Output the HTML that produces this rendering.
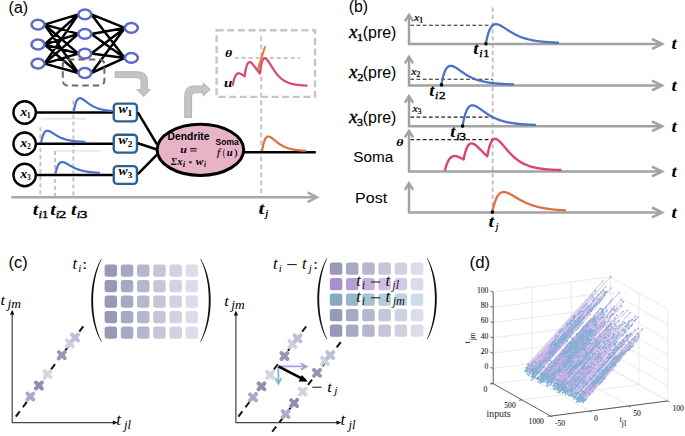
<!DOCTYPE html>
<html><head><meta charset="utf-8"><style>
html,body{margin:0;padding:0;background:#fff;width:685px;height:436px;overflow:hidden}
svg{display:block}
</style></head><body>
<svg width="685" height="436" viewBox="0 0 685 436">
<text transform="translate(8.61,12.6) scale(1.014,1)" font-family="Liberation Sans" font-size="15.8">(a)</text>
<path d="M44.5,24.6 L78.35,14.4 M44.5,24.6 L78.35,33.9 M44.5,24.6 L78.35,53.6 M44.5,24.6 L78.35,73 M44.5,44.5 L78.35,14.4 M44.5,44.5 L78.35,33.9 M44.5,44.5 L78.35,53.6 M44.5,44.5 L78.35,73 M44.5,63.6 L78.35,14.4 M44.5,63.6 L78.35,33.9 M44.5,63.6 L78.35,53.6 M44.5,63.6 L78.35,73 M91.35,14.4 L124.8,27.9 M91.35,14.4 L124.8,57.9 M91.35,33.9 L124.8,27.9 M91.35,33.9 L124.8,57.9 M91.35,53.6 L124.8,27.9 M91.35,53.6 L124.8,57.9 M91.35,73 L124.8,27.9 M91.35,73 L124.8,57.9" stroke="#000" stroke-width="2.5" fill="none" stroke-linecap="round"/>
<ellipse cx="38" cy="24.6" rx="6.5" ry="4.9" fill="#fff" stroke="#5a6cc4" stroke-width="2.5"/>
<ellipse cx="38" cy="44.5" rx="6.5" ry="4.9" fill="#fff" stroke="#5a6cc4" stroke-width="2.5"/>
<ellipse cx="38" cy="63.6" rx="6.5" ry="4.9" fill="#fff" stroke="#5a6cc4" stroke-width="2.5"/>
<ellipse cx="84.85" cy="14.4" rx="6.5" ry="4.9" fill="#fff" stroke="#5a6cc4" stroke-width="2.5"/>
<ellipse cx="84.85" cy="33.9" rx="6.5" ry="4.9" fill="#fff" stroke="#5a6cc4" stroke-width="2.5"/>
<ellipse cx="84.85" cy="53.6" rx="6.5" ry="4.9" fill="#fff" stroke="#5a6cc4" stroke-width="2.5"/>
<ellipse cx="84.85" cy="73" rx="6.5" ry="4.9" fill="#fff" stroke="#5a6cc4" stroke-width="2.5"/>
<ellipse cx="131.3" cy="27.9" rx="6.5" ry="4.9" fill="#fff" stroke="#5a6cc4" stroke-width="2.5"/>
<ellipse cx="131.3" cy="57.9" rx="6.5" ry="4.9" fill="#fff" stroke="#5a6cc4" stroke-width="2.5"/>
<rect x="62.8" y="59.5" width="41.6" height="26" rx="5" fill="none" stroke="#6a6a6a" stroke-width="2" stroke-dasharray="6.5,4"/>
<path d="M115.1,71.7 L137.5,71.7 Q147.5,71.7 147.5,81.7 L147.5,89.6 L150.4,89.6 L143.8,96.6 L137,89.6 L141,89.6 L141,81.5 Q141,77.6 137.1,77.6 L115.1,77.6 Z" fill="#c4c4c4" stroke="#a9a9a9" stroke-width="0.8"/>
<path d="M184.7,117.4 L184.7,95.5 Q184.7,85.9 194.3,85.9 L203.1,85.9 L203.1,82.8 L210.2,89.4 L203.1,96.2 L203.1,92.8 L195,92.8 Q191.6,92.8 191.6,96.2 L191.6,117.4 Z" fill="#c4c4c4" stroke="#a9a9a9" stroke-width="0.8"/>
<path d="M41.2,118.9 L85.5,118.9 M55.6,150.9 L100.6,150.9" stroke="#d6d6d6" stroke-width="1"/>
<path d="M40.4,127.3 L40.4,196 M55,151 L55,196 M73.4,100.4 L73.4,196" stroke="#c4c4c4" stroke-width="2" stroke-dasharray="4,3"/>
<path d="M261.2,36.4 L261.2,196" stroke="#c4c4c4" stroke-width="2" stroke-dasharray="4.5,3.5"/>
<path d="M37,112.5 L113,112.5 M37,143.7 L113,143.7 M37,175 L113,175" stroke="#000" stroke-width="2.5"/>
<path d="M73.8,111.6 L73.85,111.33 L73.93,110.84 L74.03,110.23 L74.16,109.54 L74.3,108.78 L74.46,108 L74.64,107.19 L74.82,106.38 L75.02,105.57 L75.23,104.79 L75.45,104.02 L75.67,103.29 L75.91,102.6 L76.16,101.96 L76.42,101.36 L76.69,100.81 L76.96,100.31 L77.24,99.87 L77.53,99.48 L77.83,99.14 L78.14,98.86 L78.45,98.63 L78.77,98.45 L79.1,98.32 L79.44,98.24 L79.78,98.2 L80.13,98.21 L80.48,98.25 L80.84,98.34 L81.21,98.46 L81.58,98.61 L81.96,98.79 L82.35,98.99 L82.74,99.22 L83.14,99.47 L83.54,99.74 L83.95,100.03 L84.36,100.33 L84.78,100.64 L85.21,100.96 L85.64,101.29 L86.07,101.62 L86.51,101.96 L86.96,102.29 L87.41,102.63 L87.87,102.97 L88.33,103.31 L88.8,103.64 L89.27,103.97 L89.74,104.3 L90.22,104.61 L90.71,104.93 L91.2,105.23 L91.69,105.53 L92.19,105.82 L92.7,106.1 L93.2,106.37 L93.72,106.63 L94.24,106.89 L94.76,107.13 L95.28,107.37 L95.81,107.6 L96.35,107.81 L96.89,108.02 L97.43,108.22 L97.98,108.41 L98.53,108.6 L99.08,108.77 L99.64,108.94 L100.21,109.09 L100.78,109.24 L101.35,109.39 L101.92,109.52 L102.5,109.65 L103.09,109.77 L103.68,109.89 L104.27,110 L104.86,110.1 L105.46,110.2 L106.07,110.29 L106.67,110.37 L107.28,110.45 L107.9,110.53 L108.51,110.6 L109.14,110.67 L109.76,110.73 L110.39,110.79 L111.02,110.85 L111.66,110.9 L112.3,110.95" stroke="#4a72c8" stroke-width="2.2" fill="none"/>
<path d="M41.2,142.2 L41.25,141.94 L41.35,141.47 L41.47,140.89 L41.62,140.23 L41.78,139.52 L41.96,138.78 L42.16,138.03 L42.37,137.28 L42.6,136.55 L42.84,135.84 L43.09,135.16 L43.36,134.53 L43.63,133.93 L43.92,133.38 L44.21,132.89 L44.52,132.45 L44.84,132.06 L45.16,131.72 L45.5,131.44 L45.84,131.21 L46.19,131.04 L46.55,130.91 L46.92,130.83 L47.3,130.8 L47.69,130.81 L48.08,130.86 L48.48,130.95 L48.89,131.07 L49.3,131.22 L49.73,131.4 L50.16,131.6 L50.59,131.83 L51.04,132.08 L51.49,132.34 L51.94,132.61 L52.41,132.9 L52.88,133.2 L53.35,133.5 L53.84,133.81 L54.33,134.12 L54.82,134.44 L55.32,134.75 L55.83,135.06 L56.34,135.37 L56.86,135.68 L57.39,135.98 L57.92,136.27 L58.45,136.56 L59,136.84 L59.54,137.11 L60.1,137.38 L60.66,137.63 L61.22,137.88 L61.79,138.12 L62.36,138.35 L62.94,138.57 L63.53,138.78 L64.12,138.98 L64.71,139.17 L65.31,139.36 L65.92,139.53 L66.53,139.7 L67.14,139.85 L67.77,140 L68.39,140.15 L69.02,140.28 L69.65,140.41 L70.29,140.53 L70.94,140.64 L71.59,140.75 L72.24,140.85 L72.9,140.94 L73.56,141.03 L74.23,141.11 L74.9,141.19 L75.58,141.26 L76.26,141.33 L76.94,141.39 L77.63,141.45 L78.33,141.51 L79.02,141.56 L79.73,141.61 L80.43,141.65 L81.14,141.69 L81.86,141.73 L82.58,141.77 L83.3,141.8 L84.03,141.83 L84.76,141.86 L85.5,141.89" stroke="#4a72c8" stroke-width="2.2" fill="none"/>
<path d="M55.6,173.2 L55.65,172.96 L55.75,172.53 L55.87,171.99 L56.02,171.38 L56.18,170.73 L56.36,170.04 L56.56,169.34 L56.78,168.64 L57,167.95 L57.24,167.28 L57.5,166.63 L57.76,166.02 L58.04,165.44 L58.32,164.9 L58.62,164.41 L58.93,163.97 L59.24,163.57 L59.57,163.22 L59.91,162.92 L60.25,162.67 L60.6,162.47 L60.97,162.31 L61.34,162.2 L61.71,162.13 L62.1,162.1 L62.49,162.11 L62.9,162.16 L63.3,162.23 L63.72,162.34 L64.14,162.48 L64.58,162.64 L65.01,162.83 L65.46,163.04 L65.91,163.26 L66.37,163.5 L66.83,163.75 L67.3,164.02 L67.78,164.29 L68.27,164.57 L68.76,164.86 L69.25,165.15 L69.75,165.44 L70.26,165.74 L70.78,166.03 L71.3,166.32 L71.82,166.61 L72.36,166.89 L72.89,167.17 L73.44,167.45 L73.99,167.72 L74.54,167.98 L75.1,168.23 L75.66,168.48 L76.24,168.72 L76.81,168.95 L77.39,169.18 L77.98,169.39 L78.57,169.6 L79.17,169.8 L79.77,169.99 L80.38,170.18 L80.99,170.35 L81.6,170.52 L82.22,170.68 L82.85,170.83 L83.48,170.98 L84.12,171.11 L84.76,171.24 L85.41,171.37 L86.06,171.48 L86.71,171.59 L87.37,171.7 L88.03,171.8 L88.7,171.89 L89.38,171.98 L90.05,172.06 L90.74,172.14 L91.42,172.21 L92.11,172.28 L92.81,172.34 L93.51,172.4 L94.21,172.46 L94.92,172.51 L95.63,172.56 L96.35,172.61 L97.07,172.65 L97.8,172.69 L98.53,172.73 L99.26,172.76 L100,172.8" stroke="#4a72c8" stroke-width="2.2" fill="none"/>
<circle cx="24.65" cy="112.5" r="11.2" fill="#fff" stroke="#000" stroke-width="2.4"/>
<text transform="translate(20.17,115.8) scale(1.179,1)" font-family="Liberation Serif" font-size="12" font-weight="bold" font-style="italic">x</text>
<text transform="translate(26.87,117.5) scale(1.094,1)" font-family="Liberation Serif" font-size="7.2" font-weight="bold">1</text>
<circle cx="24.65" cy="143.7" r="11.2" fill="#fff" stroke="#000" stroke-width="2.4"/>
<text transform="translate(20.17,147) scale(1.179,1)" font-family="Liberation Serif" font-size="12" font-weight="bold" font-style="italic">x</text>
<text transform="translate(27.21,148.7) scale(0.970,1)" font-family="Liberation Serif" font-size="7.2" font-weight="bold">2</text>
<circle cx="24.65" cy="175" r="11.2" fill="#fff" stroke="#000" stroke-width="2.4"/>
<text transform="translate(20.17,178.3) scale(1.179,1)" font-family="Liberation Serif" font-size="12" font-weight="bold" font-style="italic">x</text>
<text transform="translate(27.25,180) scale(0.941,1)" font-family="Liberation Serif" font-size="7.2" font-weight="bold">3</text>
<rect x="113.75" y="103.6" width="23.2" height="17.8" rx="3.5" fill="#fff" stroke="#2e5f92" stroke-width="2.4"/>
<text transform="translate(118.59,112.9) scale(1.108,1)" font-family="Liberation Serif" font-size="12.4" font-weight="bold" font-style="italic">w</text>
<text transform="translate(127.35,115.6) scale(1.471,1)" font-family="Liberation Serif" font-size="7.2" font-weight="bold">1</text>
<rect x="113.75" y="134.8" width="23.2" height="17.8" rx="3.5" fill="#fff" stroke="#2e5f92" stroke-width="2.4"/>
<text transform="translate(118.59,144.1) scale(1.108,1)" font-family="Liberation Serif" font-size="12.4" font-weight="bold" font-style="italic">w</text>
<text transform="translate(127.81,146.8) scale(1.305,1)" font-family="Liberation Serif" font-size="7.2" font-weight="bold">2</text>
<rect x="113.75" y="166.1" width="23.2" height="17.8" rx="3.5" fill="#fff" stroke="#2e5f92" stroke-width="2.4"/>
<text transform="translate(118.59,175.4) scale(1.108,1)" font-family="Liberation Serif" font-size="12.4" font-weight="bold" font-style="italic">w</text>
<text transform="translate(127.86,178.1) scale(1.265,1)" font-family="Liberation Serif" font-size="7.2" font-weight="bold">3</text>
<path d="M137.8,112.4 L157,144.3 M137.8,143.3 L157,149.5 M137.8,174.2 L157,154.6" stroke="#000" stroke-width="2.5"/>
<path d="M240,152.2 L315.8,152.2" stroke="#000" stroke-width="2.5"/>
<ellipse cx="200.4" cy="149.8" rx="43.3" ry="25.6" fill="#e8b3c6" stroke="#000" stroke-width="3"/>
<text transform="translate(167.61,140.4) scale(1.034,1)" font-family="Liberation Sans" font-size="10" font-weight="bold">Dendrite</text>
<text transform="translate(180.26,152.6) scale(1.083,1)" font-family="Liberation Serif" font-size="11" font-weight="bold" font-style="italic">u</text>
<path d="M190.2,148.6 L196.6,148.6 M190.2,151 L196.6,151" stroke="#222" stroke-width="1.1"/>
<text transform="translate(170.96,164.6) scale(0.984,1)" font-family="Liberation Serif" font-size="9.6" font-weight="bold" font-style="italic">Σ</text>
<text transform="translate(177.13,164.6) scale(0.969,1)" font-family="Liberation Serif" font-size="11" font-weight="bold" font-style="italic">x</text>
<text transform="translate(182.67,166.5) scale(1.183,1)" font-family="Liberation Serif" font-size="7.5" font-weight="bold" font-style="italic">i</text>
<text transform="translate(188.41,165.2) scale(0.994,1)" font-family="Liberation Serif" font-size="7" font-weight="bold">*</text>
<text transform="translate(195.69,164.6) scale(1.032,1)" font-family="Liberation Serif" font-size="11" font-weight="bold" font-style="italic">w</text>
<text transform="translate(203.92,166.5) scale(0.968,1)" font-family="Liberation Serif" font-size="7.5" font-weight="bold" font-style="italic">i</text>
<text transform="translate(215.55,144.6) scale(1.039,1)" font-family="Liberation Sans" font-size="8.2" font-weight="bold">Soma</text>
<text transform="translate(216.86,155.7) scale(1.222,1)" font-family="Liberation Serif" font-size="10.5" font-style="italic">f</text>
<text transform="translate(222.76,155.7) scale(0.742,1)" font-family="Liberation Serif" font-size="10.5">(</text>
<text transform="translate(226.81,155.7) scale(1.124,1)" font-family="Liberation Serif" font-size="9.5" font-weight="bold" font-style="italic">u</text>
<text transform="translate(233.5,155.7) scale(1.187,1)" font-family="Liberation Serif" font-size="10.5">)</text>
<path d="M262.1,151.2 L262.15,150.86 L262.25,150.26 L262.37,149.51 L262.51,148.67 L262.68,147.76 L262.86,146.81 L263.06,145.85 L263.27,144.88 L263.49,143.94 L263.73,143.03 L263.98,142.16 L264.25,141.33 L264.52,140.57 L264.81,139.86 L265.1,139.22 L265.41,138.65 L265.72,138.14 L266.04,137.71 L266.38,137.35 L266.72,137.05 L267.07,136.82 L267.43,136.65 L267.8,136.55 L268.17,136.5 L268.56,136.51 L268.95,136.57 L269.35,136.68 L269.75,136.83 L270.17,137.02 L270.59,137.25 L271.01,137.51 L271.45,137.8 L271.89,138.11 L272.34,138.45 L272.79,138.8 L273.26,139.17 L273.72,139.55 L274.2,139.94 L274.68,140.34 L275.17,140.74 L275.66,141.14 L276.16,141.54 L276.66,141.94 L277.17,142.34 L277.69,142.73 L278.21,143.12 L278.74,143.5 L279.28,143.87 L279.82,144.23 L280.36,144.59 L280.91,144.93 L281.47,145.26 L282.03,145.58 L282.6,145.89 L283.17,146.18 L283.74,146.47 L284.33,146.74 L284.91,147 L285.51,147.25 L286.1,147.49 L286.71,147.72 L287.32,147.93 L287.93,148.14 L288.55,148.33 L289.17,148.52 L289.79,148.69 L290.43,148.86 L291.06,149.01 L291.7,149.16 L292.35,149.3 L293,149.43 L293.66,149.55 L294.32,149.67 L294.98,149.77 L295.65,149.87 L296.32,149.97 L297,150.06 L297.68,150.14 L298.37,150.22 L299.06,150.29 L299.75,150.36 L300.45,150.42 L301.16,150.48 L301.86,150.54 L302.58,150.59 L303.29,150.63 L304.01,150.68 L304.74,150.72 L305.47,150.76 L306.2,150.79" stroke="#e0703f" stroke-width="2.2" fill="none"/>
<path d="M11.3,197.3 L316,197.3" stroke="#a8a8a8" stroke-width="2.4"/>
<path d="M307.6,192.4 L316.8,197.3 L307.6,202.2" stroke="#a8a8a8" stroke-width="2.6" fill="none"/>
<text transform="translate(32.81,214.5) scale(1.180,1)" font-family="Liberation Serif" font-size="17" font-weight="bold" font-style="italic">t</text>
<text transform="translate(38.57,217.5) scale(1.371,1)" font-family="Liberation Serif" font-size="9.5" font-style="italic" stroke="#000" stroke-width="0.3">i</text>
<text transform="translate(42,217.5) scale(1.250,1)" font-family="Liberation Serif" font-size="10" stroke="#000" stroke-width="0.35">1</text>
<text transform="translate(50.31,214.5) scale(1.180,1)" font-family="Liberation Serif" font-size="17" font-weight="bold" font-style="italic">t</text>
<text transform="translate(55.67,217.5) scale(1.371,1)" font-family="Liberation Serif" font-size="9.5" font-style="italic" stroke="#000" stroke-width="0.3">i</text>
<text transform="translate(58.61,217.5) scale(1.572,1)" font-family="Liberation Serif" font-size="10" stroke="#000" stroke-width="0.35">2</text>
<text transform="translate(70.91,214.5) scale(1.180,1)" font-family="Liberation Serif" font-size="17" font-weight="bold" font-style="italic">t</text>
<text transform="translate(76.67,217.5) scale(1.371,1)" font-family="Liberation Serif" font-size="9.5" font-style="italic" stroke="#000" stroke-width="0.3">i</text>
<text transform="translate(79.67,217.5) scale(1.525,1)" font-family="Liberation Serif" font-size="10" stroke="#000" stroke-width="0.35">3</text>
<text transform="translate(258.46,214) scale(1.252,1)" font-family="Liberation Serif" font-size="17" font-weight="bold" font-style="italic">t</text>
<text transform="translate(265.54,217.3) scale(0.902,1)" font-family="Liberation Serif" font-size="10.5" font-weight="bold" font-style="italic">j</text>
<rect x="216.6" y="30.3" width="98.4" height="66.6" fill="none" stroke="#c6c6c6" stroke-width="2.4" stroke-dasharray="7,3.6"/>
<path d="M234.7,57.9 L299.8,57.9" stroke="#c0c0c0" stroke-width="1.6" stroke-dasharray="4,3"/>
<text transform="translate(225.08,57.3) scale(1.302,1)" font-family="Liberation Serif" font-size="10.6" font-weight="bold" font-style="italic">θ</text>
<text transform="translate(223.95,87.3) scale(1.250,1)" font-family="Liberation Serif" font-size="12" font-weight="bold" font-style="italic">u</text>
<path d="M232.4,85.9 L232.78,84.81 L233.15,82.97 L233.53,81.35 L233.9,79.93 L234.28,78.7 L234.65,77.64 L235.03,76.73 L235.4,75.95 L235.78,75.3 L236.16,74.76 L236.53,74.33 L236.91,73.98 L237.28,73.71 L237.66,73.52 L238.03,73.39 L238.41,73.32 L238.78,73.3 L239.16,73.32 L239.53,73.39 L239.91,73.49 L240.29,73.63 L240.66,73.78 L241.04,73.97 L241.41,74.17 L241.79,74.39 L242.16,74.62 L242.54,74.87 L242.91,75.12 L243.29,75.39 L243.67,75.65 L244.04,75.93 L244.42,76.2 L244.57,76.31 L244.79,74.79 L245.17,72.45 L245.54,70.43 L245.92,68.7 L246.29,67.23 L246.67,65.99 L247.04,64.96 L247.42,64.13 L247.8,63.47 L248.17,62.96 L248.55,62.58 L248.92,62.34 L249.3,62.2 L249.67,62.16 L250.05,62.2 L250.42,62.32 L250.8,62.51 L251.18,62.76 L251.55,63.06 L251.93,63.4 L252.3,63.78 L252.68,64.19 L253.05,64.63 L253.43,65.09 L253.8,65.57 L254.18,66.06 L254.56,66.57 L254.93,67.08 L255.31,67.6 L255.68,68.12 L256.06,68.64 L256.43,69.16 L256.81,69.68 L257.18,70.19 L257.56,70.7 L257.93,71.2 L258.31,71.7 L258.69,72.18 L259.06,72.66 L259.44,73.12 L259.8,73.56 L259.81,73.45 L260.19,70.66 L260.56,68.24 L260.94,66.16 L261.31,64.39 L261.69,62.9 L262.07,61.66 L262.44,60.65 L262.82,59.84 L263.19,59.22 L263.57,58.76 L263.94,58.45 L264.32,58.26 L264.69,58.19 L265.07,58.23 L265.45,58.36 L265.82,58.56 L266.2,58.84 L266.57,59.18 L266.95,59.57 L267.32,60.01 L267.7,60.48 L268.07,60.99 L268.45,61.52 L268.82,62.08 L269.2,62.65 L269.58,63.24 L269.95,63.83 L270.33,64.44 L270.7,65.04 L271.08,65.65 L271.45,66.26 L271.83,66.87 L272.2,67.47 L272.58,68.06 L272.96,68.65 L273.33,69.23 L273.71,69.79 L274.08,70.35 L274.46,70.9 L274.83,71.43 L275.21,71.96 L275.58,72.47 L275.96,72.96 L276.33,73.45 L276.71,73.92 L277.09,74.38 L277.46,74.82 L277.84,75.25 L278.21,75.67 L278.59,76.07 L278.96,76.46 L279.34,76.84 L279.71,77.21 L280.09,77.56 L280.47,77.9 L280.84,78.23 L281.22,78.55 L281.59,78.85 L281.97,79.15 L282.34,79.43 L282.72,79.71 L283.09,79.97 L283.47,80.22 L283.85,80.46 L284.22,80.7 L284.6,80.92 L284.97,81.14 L285.35,81.34 L285.72,81.54 L286.1,81.73 L286.47,81.92 L286.85,82.09 L287.22,82.26 L287.6,82.42 L287.98,82.58 L288.35,82.72 L288.73,82.86 L289.1,83 L289.48,83.13 L289.85,83.26 L290.23,83.37 L290.6,83.49 L290.98,83.6 L291.36,83.7 L291.73,83.8 L292.11,83.9 L292.48,83.99 L292.86,84.08 L293.23,84.16 L293.61,84.24 L293.98,84.32 L294.36,84.39 L294.73,84.46 L295.11,84.52 L295.49,84.59 L295.86,84.65 L296.24,84.71 L296.61,84.76 L296.99,84.82 L297.36,84.87 L297.74,84.91 L298.11,84.96 L298.49,85 L298.87,85.05 L299.24,85.09 L299.62,85.12 L299.99,85.16 L300.37,85.19 L300.74,85.23 L301.12,85.26 L301.49,85.29 L301.87,85.32 L302.25,85.35 L302.62,85.37 L303,85.4 L303.37,85.42 L303.75,85.44 L304.12,85.46 L304.5,85.49 L304.87,85.51 L305.25,85.52 L305.62,85.54 L306,85.56 L306.38,85.57 L306.75,85.59 L307.13,85.61 L307.5,85.62" stroke="#d9486b" stroke-width="2.2" fill="none" stroke-linejoin="round"/>
<path d="M257.8,69.3 L265.2,46.3" stroke="#e8783c" stroke-width="2"/>
<text x="348.82" y="11.9" font-family="Liberation Sans" font-size="15.8">(b)</text>
<path d="M492.7,7.6 L492.7,220" stroke="#c0c0c0" stroke-width="1.9" stroke-dasharray="4.2,3"/>
<path d="M410.3,25.3 L492.7,25.3" stroke="#222" stroke-width="1.1" stroke-dasharray="3.8,2.4"/>
<path d="M410.3,79.2 L492.7,79.2" stroke="#222" stroke-width="1.1" stroke-dasharray="3.8,2.4"/>
<path d="M410.3,117.1 L492.7,117.1" stroke="#222" stroke-width="1.1" stroke-dasharray="3.8,2.4"/>
<path d="M410.3,139.6 L492.7,139.6" stroke="#222" stroke-width="1.1" stroke-dasharray="3.8,2.4"/>
<path d="M409,14.8 L409,43.9 L661.8,43.9" stroke="#a2a2a2" stroke-width="2.5" fill="none"/>
<path d="M404.9,21.4 L409,14.7 L413.1,21.4" stroke="#a2a2a2" stroke-width="2.4" fill="none"/>
<path d="M652,39 L662,43.9 L652,48.8" stroke="#a2a2a2" stroke-width="2.6" fill="none"/>
<text transform="translate(671.52,49.2) scale(1.091,1)" font-family="Liberation Serif" font-size="17.5" font-weight="bold" font-style="italic">t</text>
<path d="M409,56.8 L409,85.5 L661.8,85.5" stroke="#a2a2a2" stroke-width="2.5" fill="none"/>
<path d="M404.9,63.4 L409,56.7 L413.1,63.4" stroke="#a2a2a2" stroke-width="2.4" fill="none"/>
<path d="M652,80.6 L662,85.5 L652,90.4" stroke="#a2a2a2" stroke-width="2.6" fill="none"/>
<text transform="translate(671.52,90.8) scale(1.091,1)" font-family="Liberation Serif" font-size="17.5" font-weight="bold" font-style="italic">t</text>
<path d="M409,96.2 L409,126.3 L661.8,126.3" stroke="#a2a2a2" stroke-width="2.5" fill="none"/>
<path d="M404.9,102.8 L409,96.1 L413.1,102.8" stroke="#a2a2a2" stroke-width="2.4" fill="none"/>
<path d="M652,121.4 L662,126.3 L652,131.2" stroke="#a2a2a2" stroke-width="2.6" fill="none"/>
<text transform="translate(671.52,131.6) scale(1.091,1)" font-family="Liberation Serif" font-size="17.5" font-weight="bold" font-style="italic">t</text>
<path d="M409,130.8 L409,171.5 L661.8,171.5" stroke="#a2a2a2" stroke-width="2.5" fill="none"/>
<path d="M404.9,137.4 L409,130.7 L413.1,137.4" stroke="#a2a2a2" stroke-width="2.4" fill="none"/>
<path d="M652,166.6 L662,171.5 L652,176.4" stroke="#a2a2a2" stroke-width="2.6" fill="none"/>
<text transform="translate(671.52,176.8) scale(1.091,1)" font-family="Liberation Serif" font-size="17.5" font-weight="bold" font-style="italic">t</text>
<path d="M409,183.3 L409,212.4 L661.8,212.4" stroke="#a2a2a2" stroke-width="2.5" fill="none"/>
<path d="M404.9,189.9 L409,183.2 L413.1,189.9" stroke="#a2a2a2" stroke-width="2.4" fill="none"/>
<path d="M652,207.5 L662,212.4 L652,217.3" stroke="#a2a2a2" stroke-width="2.6" fill="none"/>
<text transform="translate(671.52,217.7) scale(1.091,1)" font-family="Liberation Serif" font-size="17.5" font-weight="bold" font-style="italic">t</text>
<text transform="translate(348.93,37.5) scale(1.065,1)" font-family="Liberation Serif" font-size="18" font-style="italic" stroke="#000" stroke-width="0.35">x</text>
<text transform="translate(356.85,40.5) scale(1.375,1)" font-family="Liberation Serif" font-size="9.5" stroke="#000" stroke-width="0.3">1</text>
<text transform="translate(362.81,37.5) scale(1.006,1)" font-family="Liberation Sans" font-size="15.8">(pre)</text>
<text transform="translate(348.93,77.5) scale(1.065,1)" font-family="Liberation Serif" font-size="18" font-style="italic" stroke="#000" stroke-width="0.35">x</text>
<text transform="translate(357.15,80.5) scale(1.313,1)" font-family="Liberation Serif" font-size="9.5" stroke="#000" stroke-width="0.3">2</text>
<text transform="translate(362.81,77.5) scale(1.006,1)" font-family="Liberation Sans" font-size="15.8">(pre)</text>
<text transform="translate(348.93,122.7) scale(1.065,1)" font-family="Liberation Serif" font-size="18" font-style="italic" stroke="#000" stroke-width="0.35">x</text>
<text transform="translate(357.12,125.7) scale(1.274,1)" font-family="Liberation Serif" font-size="9.5" stroke="#000" stroke-width="0.3">3</text>
<text transform="translate(362.81,122.7) scale(1.006,1)" font-family="Liberation Sans" font-size="15.8">(pre)</text>
<text transform="translate(353.3,162) scale(0.988,1)" font-family="Liberation Sans" font-size="15.5">Soma</text>
<text transform="translate(355.09,203.3) scale(1.033,1)" font-family="Liberation Sans" font-size="15.5">Post</text>
<text transform="translate(414.04,20.6) scale(1.205,1)" font-family="Liberation Serif" font-size="9.8" font-style="italic" stroke="#000" stroke-width="0.2">x</text>
<text transform="translate(418.95,22.5) scale(1.184,1)" font-family="Liberation Serif" font-size="7.2" stroke="#000" stroke-width="0.25">1</text>
<text transform="translate(411.14,74.9) scale(1.205,1)" font-family="Liberation Serif" font-size="9.8" font-style="italic" stroke="#000" stroke-width="0.2">x</text>
<text transform="translate(416.47,76.8) scale(1.039,1)" font-family="Liberation Serif" font-size="7.2" stroke="#000" stroke-width="0.25">2</text>
<text transform="translate(412.44,112.2) scale(1.205,1)" font-family="Liberation Serif" font-size="9.8" font-style="italic" stroke="#000" stroke-width="0.2">x</text>
<text transform="translate(417.75,114.1) scale(1.009,1)" font-family="Liberation Serif" font-size="7.2" stroke="#000" stroke-width="0.25">3</text>
<text transform="translate(396.18,145.6) scale(1.221,1)" font-family="Liberation Serif" font-size="11.3" font-weight="bold" font-style="italic">θ</text>
<path d="M485.9,43.2 L485.99,42.76 L486.14,41.97 L486.34,40.99 L486.58,39.87 L486.86,38.68 L487.16,37.44 L487.49,36.18 L487.84,34.92 L488.21,33.69 L488.61,32.5 L489.02,31.37 L489.46,30.3 L489.91,29.31 L490.38,28.4 L490.87,27.58 L491.38,26.85 L491.9,26.21 L492.44,25.66 L492.99,25.2 L493.56,24.83 L494.14,24.55 L494.73,24.36 L495.34,24.24 L495.97,24.2 L496.6,24.23 L497.25,24.33 L497.91,24.49 L498.59,24.7 L499.27,24.97 L499.97,25.28 L500.68,25.64 L501.4,26.03 L502.13,26.45 L502.87,26.9 L503.63,27.37 L504.39,27.86 L505.17,28.36 L505.96,28.87 L506.75,29.39 L507.56,29.92 L508.38,30.45 L509.2,30.97 L510.04,31.5 L510.89,32.01 L511.74,32.52 L512.61,33.02 L513.49,33.51 L514.37,33.99 L515.27,34.46 L516.17,34.91 L517.08,35.35 L518,35.77 L518.93,36.18 L519.87,36.58 L520.82,36.95 L521.78,37.32 L522.74,37.66 L523.72,37.99 L524.7,38.31 L525.69,38.61 L526.69,38.9 L527.7,39.17 L528.71,39.43 L529.74,39.67 L530.77,39.9 L531.81,40.12 L532.85,40.33 L533.91,40.52 L534.97,40.71 L536.04,40.88 L537.12,41.04 L538.21,41.19 L539.3,41.34 L540.4,41.47 L541.51,41.59 L542.62,41.71 L543.75,41.82 L544.88,41.92 L546.02,42.02 L547.16,42.11 L548.31,42.19 L549.47,42.27 L550.64,42.34 L551.81,42.41 L552.99,42.47 L554.18,42.52 L555.38,42.58 L556.58,42.63 L557.79,42.67 L559,42.72" stroke="#4a72c8" stroke-width="2.3" fill="none"/>
<path d="M441.4,84.7 L441.49,84.23 L441.64,83.38 L441.84,82.33 L442.08,81.15 L442.35,79.89 L442.65,78.58 L442.97,77.26 L443.32,75.96 L443.7,74.69 L444.09,73.47 L444.5,72.32 L444.93,71.25 L445.39,70.27 L445.85,69.38 L446.34,68.59 L446.84,67.9 L447.36,67.31 L447.89,66.82 L448.44,66.44 L449.01,66.14 L449.58,65.94 L450.17,65.83 L450.78,65.8 L451.4,65.85 L452.03,65.97 L452.67,66.15 L453.33,66.4 L454,66.7 L454.68,67.05 L455.37,67.44 L456.08,67.87 L456.79,68.33 L457.52,68.81 L458.26,69.32 L459.01,69.84 L459.77,70.38 L460.54,70.92 L461.32,71.47 L462.11,72.02 L462.91,72.57 L463.72,73.12 L464.54,73.66 L465.38,74.19 L466.22,74.71 L467.07,75.22 L467.93,75.72 L468.8,76.2 L469.68,76.67 L470.57,77.12 L471.46,77.55 L472.37,77.97 L473.28,78.37 L474.21,78.75 L475.14,79.12 L476.08,79.47 L477.03,79.8 L477.99,80.12 L478.96,80.42 L479.93,80.71 L480.92,80.97 L481.91,81.23 L482.91,81.47 L483.92,81.69 L484.94,81.91 L485.96,82.11 L486.99,82.29 L488.03,82.47 L489.08,82.63 L490.14,82.79 L491.2,82.93 L492.27,83.06 L493.35,83.19 L494.43,83.3 L495.53,83.41 L496.63,83.51 L497.74,83.61 L498.85,83.69 L499.98,83.77 L501.11,83.85 L502.24,83.92 L503.39,83.98 L504.54,84.04 L505.7,84.1 L506.86,84.15 L508.03,84.19 L509.21,84.24 L510.4,84.28 L511.59,84.31 L512.79,84.35 L514,84.38" stroke="#4a72c8" stroke-width="2.3" fill="none"/>
<path d="M462.7,125.3 L462.79,124.81 L462.94,123.95 L463.15,122.87 L463.39,121.66 L463.66,120.35 L463.96,119 L464.29,117.64 L464.64,116.28 L465.02,114.96 L465.41,113.69 L465.83,112.48 L466.27,111.35 L466.72,110.31 L467.2,109.36 L467.69,108.51 L468.19,107.76 L468.72,107.11 L469.26,106.57 L469.81,106.13 L470.38,105.78 L470.96,105.53 L471.56,105.38 L472.17,105.31 L472.79,105.32 L473.43,105.4 L474.08,105.56 L474.74,105.78 L475.42,106.06 L476.11,106.39 L476.81,106.76 L477.52,107.18 L478.24,107.64 L478.97,108.12 L479.72,108.63 L480.48,109.16 L481.24,109.71 L482.02,110.26 L482.81,110.83 L483.61,111.4 L484.42,111.97 L485.24,112.54 L486.07,113.1 L486.91,113.66 L487.76,114.21 L488.62,114.75 L489.48,115.28 L490.36,115.79 L491.25,116.29 L492.15,116.77 L493.05,117.24 L493.97,117.69 L494.89,118.13 L495.82,118.55 L496.77,118.95 L497.72,119.33 L498.68,119.69 L499.64,120.04 L500.62,120.37 L501.61,120.69 L502.6,120.99 L503.6,121.27 L504.61,121.54 L505.63,121.79 L506.66,122.03 L507.69,122.26 L508.73,122.47 L509.78,122.67 L510.84,122.85 L511.91,123.03 L512.98,123.19 L514.06,123.35 L515.15,123.49 L516.25,123.63 L517.35,123.75 L518.46,123.87 L519.58,123.98 L520.71,124.08 L521.84,124.17 L522.98,124.26 L524.13,124.34 L525.28,124.42 L526.45,124.49 L527.62,124.55 L528.79,124.62 L529.98,124.67 L531.17,124.72 L532.37,124.77 L533.57,124.81 L534.78,124.85 L536,124.89" stroke="#4a72c8" stroke-width="2.3" fill="none"/>
<path d="M444.7,170.4 L445.28,169.16 L445.87,167.06 L446.45,165.22 L447.04,163.61 L447.62,162.2 L448.2,160.99 L448.79,159.95 L449.37,159.07 L449.96,158.33 L450.54,157.72 L451.12,157.22 L451.71,156.82 L452.29,156.52 L452.88,156.3 L453.46,156.15 L454.04,156.07 L454.63,156.05 L455.21,156.08 L455.8,156.15 L456.38,156.27 L456.96,156.42 L457.55,156.6 L458.13,156.81 L458.72,157.04 L459.3,157.29 L459.88,157.56 L460.47,157.84 L461.05,158.13 L461.64,158.42 L462.22,158.73 L462.8,159.04 L463.39,159.35 L463.63,159.48 L463.97,157.74 L464.56,155.08 L465.14,152.78 L465.72,150.81 L466.31,149.13 L466.89,147.72 L467.48,146.56 L468.06,145.6 L468.64,144.85 L469.23,144.27 L469.81,143.84 L470.4,143.56 L470.98,143.4 L471.56,143.36 L472.15,143.41 L472.73,143.55 L473.32,143.76 L473.9,144.04 L474.48,144.38 L475.07,144.77 L475.65,145.2 L476.24,145.67 L476.82,146.17 L477.4,146.7 L477.99,147.24 L478.57,147.81 L479.16,148.38 L479.74,148.96 L480.32,149.55 L480.91,150.15 L481.49,150.74 L482.08,151.33 L482.66,151.92 L483.24,152.51 L483.83,153.09 L484.41,153.66 L485,154.22 L485.58,154.78 L486.16,155.32 L486.75,155.85 L487.31,156.35 L487.33,156.22 L487.92,153.04 L488.5,150.28 L489.08,147.92 L489.67,145.9 L490.25,144.21 L490.84,142.8 L491.42,141.64 L492,140.72 L492.59,140.01 L493.17,139.49 L493.76,139.13 L494.34,138.92 L494.92,138.85 L495.51,138.89 L496.09,139.03 L496.68,139.27 L497.26,139.58 L497.84,139.97 L498.43,140.41 L499.01,140.91 L499.6,141.45 L500.18,142.03 L500.76,142.63 L501.35,143.27 L501.93,143.92 L502.52,144.59 L503.1,145.27 L503.68,145.95 L504.27,146.65 L504.85,147.34 L505.44,148.03 L506.02,148.72 L506.6,149.4 L507.19,150.08 L507.77,150.75 L508.36,151.41 L508.94,152.06 L509.52,152.69 L510.11,153.31 L510.69,153.92 L511.28,154.52 L511.86,155.1 L512.44,155.67 L513.03,156.22 L513.61,156.75 L514.2,157.27 L514.78,157.78 L515.36,158.27 L515.95,158.75 L516.53,159.21 L517.12,159.65 L517.7,160.08 L518.28,160.5 L518.87,160.9 L519.45,161.29 L520.04,161.67 L520.62,162.03 L521.2,162.38 L521.79,162.71 L522.37,163.03 L522.96,163.34 L523.54,163.64 L524.12,163.93 L524.71,164.21 L525.29,164.47 L525.88,164.73 L526.46,164.98 L527.04,165.21 L527.63,165.44 L528.21,165.65 L528.8,165.86 L529.38,166.06 L529.96,166.25 L530.55,166.44 L531.13,166.61 L531.72,166.78 L532.3,166.94 L532.88,167.1 L533.47,167.25 L534.05,167.39 L534.64,167.52 L535.22,167.65 L535.8,167.78 L536.39,167.9 L536.97,168.01 L537.56,168.12 L538.14,168.22 L538.72,168.32 L539.31,168.42 L539.89,168.51 L540.48,168.6 L541.06,168.68 L541.64,168.76 L542.23,168.83 L542.81,168.91 L543.4,168.98 L543.98,169.04 L544.56,169.1 L545.15,169.16 L545.73,169.22 L546.32,169.28 L546.9,169.33 L547.48,169.38 L548.07,169.43 L548.65,169.47 L549.24,169.52 L549.82,169.56 L550.4,169.6 L550.99,169.63 L551.57,169.67 L552.16,169.7 L552.74,169.74 L553.32,169.77 L553.91,169.8 L554.49,169.83 L555.08,169.85 L555.66,169.88 L556.24,169.9 L556.83,169.93 L557.41,169.95 L558,169.97 L558.58,169.99 L559.16,170.01 L559.75,170.03 L560.33,170.05 L560.92,170.06 L561.5,170.08" stroke="#d9486b" stroke-width="2.4" fill="none" stroke-linejoin="round"/>
<path d="M492.5,211.2 L492.59,210.79 L492.74,210.07 L492.95,209.16 L493.19,208.13 L493.46,207.02 L493.77,205.86 L494.09,204.67 L494.45,203.47 L494.82,202.29 L495.22,201.14 L495.64,200.04 L496.08,198.98 L496.53,197.98 L497.01,197.06 L497.5,196.2 L498.01,195.43 L498.53,194.73 L499.07,194.11 L499.63,193.58 L500.2,193.12 L500.78,192.75 L501.38,192.46 L502,192.24 L502.62,192.09 L503.26,192.01 L503.91,192 L504.58,192.05 L505.25,192.16 L505.94,192.32 L506.65,192.54 L507.36,192.79 L508.08,193.09 L508.82,193.42 L509.57,193.79 L510.32,194.18 L511.09,194.6 L511.87,195.04 L512.67,195.49 L513.47,195.97 L514.28,196.45 L515.1,196.94 L515.93,197.43 L516.77,197.93 L517.62,198.43 L518.49,198.93 L519.36,199.42 L520.24,199.91 L521.13,200.39 L522.03,200.87 L522.94,201.33 L523.85,201.79 L524.78,202.23 L525.72,202.66 L526.66,203.08 L527.61,203.49 L528.57,203.89 L529.55,204.27 L530.52,204.63 L531.51,204.99 L532.51,205.33 L533.51,205.65 L534.53,205.97 L535.55,206.26 L536.58,206.55 L537.61,206.82 L538.66,207.08 L539.71,207.33 L540.77,207.56 L541.84,207.79 L542.92,208 L544,208.2 L545.09,208.39 L546.19,208.57 L547.3,208.74 L548.41,208.9 L549.54,209.05 L550.66,209.19 L551.8,209.33 L552.95,209.45 L554.1,209.57 L555.26,209.68 L556.42,209.79 L557.59,209.89 L558.77,209.98 L559.96,210.06 L561.15,210.14 L562.36,210.22 L563.56,210.29 L564.78,210.36 L566,210.42" stroke="#e0703f" stroke-width="2.3" fill="none"/>
<circle cx="485.9" cy="43.8" r="1.8" fill="#000"/>
<circle cx="441.5" cy="84.9" r="1.8" fill="#000"/>
<circle cx="462.6" cy="126.1" r="1.8" fill="#000"/>
<circle cx="492.4" cy="212.1" r="1.8" fill="#000"/>
<text transform="translate(473.32,53.8) scale(1.193,1)" font-family="Liberation Serif" font-size="16" font-weight="bold" font-style="italic">t</text>
<text transform="translate(479.13,57.1) scale(1.262,1)" font-family="Liberation Serif" font-size="9.5" font-style="italic" stroke="#000" stroke-width="0.3">i</text>
<text transform="translate(483.13,57.1) scale(1.221,1)" font-family="Liberation Serif" font-size="10" stroke="#000" stroke-width="0.35">1</text>
<text transform="translate(429.33,95.5) scale(1.170,1)" font-family="Liberation Serif" font-size="16" font-weight="bold" font-style="italic">t</text>
<text transform="translate(435.03,98.6) scale(1.262,1)" font-family="Liberation Serif" font-size="9.5" font-style="italic" stroke="#000" stroke-width="0.3">i</text>
<text transform="translate(439.02,98.6) scale(1.322,1)" font-family="Liberation Serif" font-size="10" stroke="#000" stroke-width="0.35">2</text>
<text transform="translate(450.33,136.6) scale(1.170,1)" font-family="Liberation Serif" font-size="16" font-weight="bold" font-style="italic">t</text>
<text transform="translate(456.27,139.6) scale(1.371,1)" font-family="Liberation Serif" font-size="9.5" font-style="italic" stroke="#000" stroke-width="0.3">i</text>
<text transform="translate(459.15,139.6) scale(1.356,1)" font-family="Liberation Serif" font-size="10" stroke="#000" stroke-width="0.35">3</text>
<text transform="translate(488.49,226.7) scale(1.262,1)" font-family="Liberation Serif" font-size="16" font-weight="bold" font-style="italic">t</text>
<text transform="translate(495.95,229.5) scale(0.764,1)" font-family="Liberation Serif" font-size="10.5" font-weight="bold" font-style="italic">j</text>
<text transform="translate(8.59,267.8) scale(1.020,1)" font-family="Liberation Sans" font-size="16">(c)</text>
<text transform="translate(72.56,269) scale(1.060,1)" font-family="Liberation Serif" font-size="15.7" font-style="italic">t</text>
<text x="78.19" y="272.3" font-family="Liberation Serif" font-size="11" font-style="italic">i</text>
<text transform="translate(82.19,269) scale(1.190,1)" font-family="Liberation Serif" font-size="15">:</text>
<rect x="104.6" y="264.5" width="12.5" height="12.2" rx="2.6" fill="#9899b7"/>
<rect x="120.8" y="264.5" width="12.5" height="12.2" rx="2.6" fill="#a7a8c3"/>
<rect x="137" y="264.5" width="12.5" height="12.2" rx="2.6" fill="#b6b7ce"/>
<rect x="153.2" y="264.5" width="12.5" height="12.2" rx="2.6" fill="#c5c6d9"/>
<rect x="169.4" y="264.5" width="12.5" height="12.2" rx="2.6" fill="#d0d2e1"/>
<rect x="185.6" y="264.5" width="12.5" height="12.2" rx="2.6" fill="#dbdde8"/>
<rect x="104.6" y="280" width="12.5" height="12.2" rx="2.6" fill="#9899b7"/>
<rect x="120.8" y="280" width="12.5" height="12.2" rx="2.6" fill="#a7a8c3"/>
<rect x="137" y="280" width="12.5" height="12.2" rx="2.6" fill="#b6b7ce"/>
<rect x="153.2" y="280" width="12.5" height="12.2" rx="2.6" fill="#c5c6d9"/>
<rect x="169.4" y="280" width="12.5" height="12.2" rx="2.6" fill="#d0d2e1"/>
<rect x="185.6" y="280" width="12.5" height="12.2" rx="2.6" fill="#dbdde8"/>
<rect x="104.6" y="295.5" width="12.5" height="12.2" rx="2.6" fill="#9899b7"/>
<rect x="120.8" y="295.5" width="12.5" height="12.2" rx="2.6" fill="#a7a8c3"/>
<rect x="137" y="295.5" width="12.5" height="12.2" rx="2.6" fill="#b6b7ce"/>
<rect x="153.2" y="295.5" width="12.5" height="12.2" rx="2.6" fill="#c5c6d9"/>
<rect x="169.4" y="295.5" width="12.5" height="12.2" rx="2.6" fill="#d0d2e1"/>
<rect x="185.6" y="295.5" width="12.5" height="12.2" rx="2.6" fill="#dbdde8"/>
<rect x="104.6" y="311" width="12.5" height="12.2" rx="2.6" fill="#9899b7"/>
<rect x="120.8" y="311" width="12.5" height="12.2" rx="2.6" fill="#a7a8c3"/>
<rect x="137" y="311" width="12.5" height="12.2" rx="2.6" fill="#b6b7ce"/>
<rect x="153.2" y="311" width="12.5" height="12.2" rx="2.6" fill="#c5c6d9"/>
<rect x="169.4" y="311" width="12.5" height="12.2" rx="2.6" fill="#d0d2e1"/>
<rect x="185.6" y="311" width="12.5" height="12.2" rx="2.6" fill="#dbdde8"/>
<rect x="104.6" y="326.5" width="12.5" height="12.2" rx="2.6" fill="#9899b7"/>
<rect x="120.8" y="326.5" width="12.5" height="12.2" rx="2.6" fill="#a7a8c3"/>
<rect x="137" y="326.5" width="12.5" height="12.2" rx="2.6" fill="#b6b7ce"/>
<rect x="153.2" y="326.5" width="12.5" height="12.2" rx="2.6" fill="#c5c6d9"/>
<rect x="169.4" y="326.5" width="12.5" height="12.2" rx="2.6" fill="#d0d2e1"/>
<rect x="185.6" y="326.5" width="12.5" height="12.2" rx="2.6" fill="#dbdde8"/>
<path d="M101.2,259.1 C87.93,281.4 87.93,319.4 101.2,341.7 L101.8,341.7 C90.27,319.4 90.27,281.4 101.8,259.1 Z" fill="#111"/>
<path d="M200.9,259.1 C214.03,281.4 214.03,319.4 200.9,341.7 L200.3,341.7 C211.7,319.4 211.7,281.4 200.3,259.1 Z" fill="#111"/>
<text transform="translate(273.01,268.8) scale(1.060,1)" font-family="Liberation Serif" font-size="15.7" font-style="italic">t</text>
<text x="278.79" y="272" font-family="Liberation Serif" font-size="11" font-style="italic">i</text>
<path d="M287.3,264.6 L296.8,264.6" stroke="#111" stroke-width="1"/>
<text transform="translate(302.01,268.8) scale(1.060,1)" font-family="Liberation Serif" font-size="15.7" font-style="italic">t</text>
<text x="308.78" y="272" font-family="Liberation Serif" font-size="11" font-style="italic">j</text>
<text transform="translate(313.16,268.8) scale(1.133,1)" font-family="Liberation Serif" font-size="15">:</text>
<rect x="329.8" y="262.6" width="12.5" height="12.2" rx="2.6" fill="#9899b7"/>
<rect x="346" y="262.6" width="12.5" height="12.2" rx="2.6" fill="#a7a8c3"/>
<rect x="362.2" y="262.6" width="12.5" height="12.2" rx="2.6" fill="#b6b7ce"/>
<rect x="378.4" y="262.6" width="12.5" height="12.2" rx="2.6" fill="#c5c6d9"/>
<rect x="394.6" y="262.6" width="12.5" height="12.2" rx="2.6" fill="#d0d2e1"/>
<rect x="410.8" y="262.6" width="12.5" height="12.2" rx="2.6" fill="#dbdde8"/>
<rect x="329.8" y="278.1" width="12.5" height="12.2" rx="2.6" fill="#a98fcf"/>
<rect x="346" y="278.1" width="12.5" height="12.2" rx="2.6" fill="#b79ed6"/>
<rect x="362.2" y="278.1" width="12.5" height="12.2" rx="2.6" fill="#c4afdd"/>
<rect x="378.4" y="278.1" width="12.5" height="12.2" rx="2.6" fill="#cdbce3"/>
<rect x="394.6" y="278.1" width="12.5" height="12.2" rx="2.6" fill="#d6c9e8"/>
<rect x="410.8" y="278.1" width="12.5" height="12.2" rx="2.6" fill="#e0d8ee"/>
<rect x="329.8" y="293.6" width="12.5" height="12.2" rx="2.6" fill="#84aac4"/>
<rect x="346" y="293.6" width="12.5" height="12.2" rx="2.6" fill="#97b7cc"/>
<rect x="362.2" y="293.6" width="12.5" height="12.2" rx="2.6" fill="#a6c2d4"/>
<rect x="378.4" y="293.6" width="12.5" height="12.2" rx="2.6" fill="#b3cbdb"/>
<rect x="394.6" y="293.6" width="12.5" height="12.2" rx="2.6" fill="#bed3e0"/>
<rect x="410.8" y="293.6" width="12.5" height="12.2" rx="2.6" fill="#cfdde8"/>
<rect x="329.8" y="309.1" width="12.5" height="12.2" rx="2.6" fill="#9899b7"/>
<rect x="346" y="309.1" width="12.5" height="12.2" rx="2.6" fill="#a7a8c3"/>
<rect x="362.2" y="309.1" width="12.5" height="12.2" rx="2.6" fill="#b6b7ce"/>
<rect x="378.4" y="309.1" width="12.5" height="12.2" rx="2.6" fill="#c5c6d9"/>
<rect x="394.6" y="309.1" width="12.5" height="12.2" rx="2.6" fill="#d0d2e1"/>
<rect x="410.8" y="309.1" width="12.5" height="12.2" rx="2.6" fill="#dbdde8"/>
<rect x="329.8" y="324.6" width="12.5" height="12.2" rx="2.6" fill="#9899b7"/>
<rect x="346" y="324.6" width="12.5" height="12.2" rx="2.6" fill="#a7a8c3"/>
<rect x="362.2" y="324.6" width="12.5" height="12.2" rx="2.6" fill="#b6b7ce"/>
<rect x="378.4" y="324.6" width="12.5" height="12.2" rx="2.6" fill="#c5c6d9"/>
<rect x="394.6" y="324.6" width="12.5" height="12.2" rx="2.6" fill="#d0d2e1"/>
<rect x="410.8" y="324.6" width="12.5" height="12.2" rx="2.6" fill="#dbdde8"/>
<path d="M326.7,258.3 C314.23,280.17 314.23,317.43 326.7,339.3 L327.3,339.3 C316.57,317.43 316.57,280.17 327.3,258.3 Z" fill="#111"/>
<path d="M427.5,258.3 C439.97,280.17 439.97,317.43 427.5,339.3 L426.9,339.3 C437.63,317.43 437.63,280.17 426.9,258.3 Z" fill="#111"/>
<text transform="translate(356.3,286.4) scale(1.060,1)" font-family="Liberation Serif" font-size="16" font-style="italic" fill="#111">t</text>
<text x="361.86" y="289.2" font-family="Liberation Serif" font-size="11.5" font-style="italic" fill="#111">i</text>
<path d="M371,282 L380.2,282" stroke="#111" stroke-width="1"/>
<text transform="translate(385.5,286.4) scale(1.060,1)" font-family="Liberation Serif" font-size="16" font-style="italic" fill="#111">t</text>
<text transform="translate(392.3,289.2) scale(1.060,1)" font-family="Liberation Serif" font-size="11.5" font-style="italic" fill="#111">jl</text>
<text transform="translate(356.3,302.2) scale(1.060,1)" font-family="Liberation Serif" font-size="16" font-style="italic" fill="#111">t</text>
<text x="361.86" y="305" font-family="Liberation Serif" font-size="11.5" font-style="italic" fill="#111">i</text>
<path d="M371,297.8 L380.2,297.8" stroke="#111" stroke-width="1"/>
<text transform="translate(385.5,302.2) scale(1.060,1)" font-family="Liberation Serif" font-size="16" font-style="italic" fill="#111">t</text>
<text transform="translate(392.71,305) scale(1.060,1)" font-family="Liberation Serif" font-size="11.5" font-style="italic" fill="#111">jm</text>
<path d="M12.2,312.8 L12.2,422.6 L114.8,422.6" stroke="#444" stroke-width="1.2" fill="none"/>
<path d="M12.2,309.8 L10,314.8 L14.4,314.8 Z" fill="#111"/>
<path d="M117.8,422.6 L112.8,420.4 L112.8,424.8 Z" fill="#111"/>
<text transform="translate(0.49,304.6) scale(1.060,1)" font-family="Liberation Serif" font-size="15.5" font-style="italic">t</text>
<text transform="translate(7.62,307.5) scale(1.060,1)" font-family="Liberation Serif" font-size="12.7" font-style="italic">jm</text>
<text transform="translate(116.3,425.3) scale(1.060,1)" font-family="Liberation Serif" font-size="16" font-style="italic">t</text>
<text transform="translate(123.94,428.5) scale(1.060,1)" font-family="Liberation Serif" font-size="12" font-style="italic">jl</text>
<path d="M15.8,416.7 L85,324" stroke="#111" stroke-width="2" stroke-dasharray="6.6,5.2"/>
<path d="M27.4,393.5 L33.4,399.5 M27.4,399.5 L33.4,393.5" stroke="#a9abc9" stroke-width="3.9" stroke-linecap="round"/>
<path d="M35.9,382.5 L41.9,388.5 M35.9,388.5 L41.9,382.5" stroke="#8e90b1" stroke-width="3.9" stroke-linecap="round"/>
<path d="M44.5,371.1 L50.5,377.1 M44.5,377.1 L50.5,371.1" stroke="#d3d5e5" stroke-width="3.9" stroke-linecap="round"/>
<path d="M58.8,352.2 L64.8,358.2 M58.8,358.2 L64.8,352.2" stroke="#9597b7" stroke-width="3.9" stroke-linecap="round"/>
<path d="M66.8,340.3 L72.8,346.3 M66.8,346.3 L72.8,340.3" stroke="#cfd1e2" stroke-width="3.9" stroke-linecap="round"/>
<path d="M72,334.5 L78,340.5 M72,340.5 L78,334.5" stroke="#bcbfd5" stroke-width="3.9" stroke-linecap="round"/>
<path d="M235.9,313.5 L235.9,422.6 L338.5,422.6" stroke="#444" stroke-width="1.2" fill="none"/>
<path d="M235.9,310.5 L233.7,315.5 L238.1,315.5 Z" fill="#111"/>
<path d="M341.5,422.6 L336.5,420.4 L336.5,424.8 Z" fill="#111"/>
<text transform="translate(224.19,305.8) scale(1.060,1)" font-family="Liberation Serif" font-size="15.5" font-style="italic">t</text>
<text transform="translate(231.32,308.5) scale(1.060,1)" font-family="Liberation Serif" font-size="12.7" font-style="italic">jm</text>
<text transform="translate(340.6,425.2) scale(1.060,1)" font-family="Liberation Serif" font-size="16" font-style="italic">t</text>
<text transform="translate(348.44,428.5) scale(1.060,1)" font-family="Liberation Serif" font-size="12" font-style="italic">jl</text>
<path d="M238.4,416.7 L307.3,324.9" stroke="#111" stroke-width="2" stroke-dasharray="6.6,5.2"/>
<path d="M340.7,342.1 L270.5,434" stroke="#111" stroke-width="2" stroke-dasharray="6.6,5.2"/>
<path d="M250,394.3 L256,400.3 M250,400.3 L256,394.3" stroke="#a9abc9" stroke-width="3.9" stroke-linecap="round"/>
<path d="M282.6,411.1 L288.6,417.1 M282.6,417.1 L288.6,411.1" stroke="#a9abc9" stroke-width="3.9" stroke-linecap="round"/>
<path d="M258.5,383.3 L264.5,389.3 M258.5,389.3 L264.5,383.3" stroke="#8e90b1" stroke-width="3.9" stroke-linecap="round"/>
<path d="M291.1,400.1 L297.1,406.1 M291.1,406.1 L297.1,400.1" stroke="#8e90b1" stroke-width="3.9" stroke-linecap="round"/>
<path d="M267.1,371.9 L273.1,377.9 M267.1,377.9 L273.1,371.9" stroke="#d3d5e5" stroke-width="3.9" stroke-linecap="round"/>
<path d="M299.7,388.7 L305.7,394.7 M299.7,394.7 L305.7,388.7" stroke="#d3d5e5" stroke-width="3.9" stroke-linecap="round"/>
<path d="M281.4,353 L287.4,359 M281.4,359 L287.4,353" stroke="#9597b7" stroke-width="3.9" stroke-linecap="round"/>
<path d="M314,369.8 L320,375.8 M314,375.8 L320,369.8" stroke="#9597b7" stroke-width="3.9" stroke-linecap="round"/>
<path d="M289.4,341.1 L295.4,347.1 M289.4,347.1 L295.4,341.1" stroke="#cfd1e2" stroke-width="3.9" stroke-linecap="round"/>
<path d="M322,357.9 L328,363.9 M322,363.9 L328,357.9" stroke="#cfd1e2" stroke-width="3.9" stroke-linecap="round"/>
<path d="M294.6,335.3 L300.6,341.3 M294.6,341.3 L300.6,335.3" stroke="#bcbfd5" stroke-width="3.9" stroke-linecap="round"/>
<path d="M327.2,352.1 L333.2,358.1 M327.2,358.1 L333.2,352.1" stroke="#bcbfd5" stroke-width="3.9" stroke-linecap="round"/>
<path d="M278.4,366.4 L306,366.4 M300.8,363.2 L306.6,366.4 L300.8,369.6" stroke="#b399dc" stroke-width="1.8" fill="none"/>
<path d="M278.4,366.4 L278.4,383.2 M275.4,378.2 L278.4,383.8 L281.4,378.2" stroke="#8ab4d0" stroke-width="1.8" fill="none"/>
<path d="M278.4,366.4 L305.5,380.4" stroke="#000" stroke-width="2.6"/>
<path d="M307.8,381.6 L298.6,381.4 L301.9,375 Z" fill="#000"/>
<path d="M312.3,387.2 L321.6,387.2" stroke="#111" stroke-width="1"/>
<text transform="translate(327.29,391.5) scale(1.060,1)" font-family="Liberation Serif" font-size="15.5" font-style="italic">t</text>
<text transform="translate(334.35,394.2) scale(1.060,1)" font-family="Liberation Serif" font-size="11" font-style="italic">j</text>
<text transform="translate(469.59,267.8) scale(1.030,1)" font-family="Liberation Sans" font-size="16.3">(d)</text>
<path d="M493.2,383.7 L610.35,368.55 L667.75,400.95 M493.2,368.42 L610.35,353.27 L667.75,385.67 M493.2,353.14 L610.35,337.99 L667.75,370.39 M493.2,337.86 L610.35,322.71 L667.75,355.11 M493.2,322.58 L610.35,307.43 L667.75,339.83 M493.2,307.3 L610.35,292.15 L667.75,324.55 M493.2,292.02 L610.35,276.87 L667.75,309.27 M532.25,378.65 L532.25,286.97 M532.25,378.65 L589.65,411.05 M571.3,373.6 L571.3,281.92 M571.3,373.6 L628.7,406 M610.35,368.55 L610.35,276.87 M610.35,368.55 L667.75,400.95 M639.05,384.75 L639.05,293.07 M639.05,384.75 L521.9,399.9 M667.75,400.95 L667.75,309.27 M667.75,400.95 L550.6,416.1" stroke="#e4e4e4" stroke-width="0.8" fill="none"/>
<path d="M525.12,371.37 L610.64,276.65 M560.45,391.36 L594.45,353.71 M533.45,373.83 L610.91,288.04 M541.82,375.45 L592.91,318.86 M534.08,368.15 L578.04,319.47 M557.02,387.6 L609.72,329.23 M532.03,370.09 L539.61,361.7 M573.89,397.03 L634.83,329.53 M525.83,371.91 L541.93,354.09 M527.52,367.33 L592.05,295.85 M572.52,389.47 L637.92,317.05 M533.37,371.81 L589.76,309.36 M531.65,380.23 L566.95,341.13 M559.73,388.01 L599.4,344.07 M531.43,376.69 L604.49,295.78 M534.54,373.32 L557.5,347.89 M552.96,385.87 L599.72,334.08 M548.21,376.53 L604.28,314.43 M540.11,379.12 L565.11,351.43 M563.79,391.27 L613.76,335.93 M569.16,389.54 L635.35,316.23 M540.02,379.27 L593.35,320.2 M576.14,396.07 L628.1,338.53 M533.96,373.86 L567.89,336.29 M535.13,375.33 L582.63,322.73 M563.07,389.7 L582.87,367.77 M565.91,391.62 L629.31,321.4 M545.7,377.54 L564.54,356.67 M563.18,384.61 L616.02,326.09 M548.61,377.29 L578.07,344.66 M580.68,399.94 L635,339.78 M559.84,391.92 L593.16,355.02 M533.07,377.88 L590.25,314.54 M584.65,400.58 L612.84,369.35 M544.97,376.5 L603,312.22 M554.21,381.92 L609.06,321.17 M535.6,371.85 L578.67,324.14 M570.8,388.41 L610.19,344.78 M557.44,387.67 L627.33,310.26 M551.71,380.63 L582.06,347.02 M558.22,389.93 L605.73,337.32 M576.61,394.6 L629.84,335.64 M571.25,393.26 L610.66,349.61 M534.5,377.53 L543.75,367.27 M565.17,386.21 L619.66,325.86 M534.6,376.19 L570.08,336.89 M529.21,374.17 L568.38,330.79 M580.94,399.3 L620.59,355.38 M578.49,401.44 L619.9,355.58 M557.1,383.59 L610.75,324.17 M565.27,385.97 L582.19,367.23 M577.25,398.94 L594.14,380.23 M533.15,369.41 L597.32,298.34 M562.95,388.82 L581.25,368.56 M550.52,382.31 L585.41,343.68 M532.51,370.12 L549.43,351.38 M527.27,370.84 L581.32,310.98 M536.62,371.41 L596.98,304.56 M543.53,375.75 L610.5,301.57 M547.28,378.13 L590.29,330.5 M564.8,391.46 L599.41,353.13 M548.91,380.09 L572.41,354.06 M538.13,381.73 L612.4,299.47 M550.74,378.72 L613.76,308.92 M554.82,384.04 L591.58,343.33 M541.99,377.96 L585.56,329.72 M545.72,375.58 L556.67,363.45 M547.07,384.95 L603.78,322.13 M545.73,374.23 L584.42,331.38 M550.98,384.52 L603.19,326.7 M543.58,378.24 L571.33,347.51 M576.59,401.69 L602.58,372.9 M579.78,402.08 L615.26,362.79 M531.37,369.04 L605.66,286.76 M558.83,385.92 L568.6,375.09 M563.14,386.84 L630.22,312.55 M573.73,396.18 L604.66,361.91 M580.09,399.38 L613.68,362.17 M549.39,385.4 L590.69,339.65 M573.71,395.49 L627.62,335.79 M537.91,377.63 L600.29,308.54 M581.25,400.23 L638.71,336.59 M555.08,383 L570.26,366.19 M561.47,389.35 L567.89,382.24 M549.37,381.21 L586.3,340.31 M549.45,377.67 L595.63,326.53 M557.22,385.27 L574.93,365.64 M570.32,390.85 L625.28,329.98 M564.57,386.52 L601.4,345.73 M538.5,378.39 L569.98,343.53 M527.42,369.35 L586.47,303.94 M565.71,394.33 L616.22,338.38 M540.41,381.93 L601.87,313.86 M573.13,394.33 L608.94,354.68 M545.7,377.32 L606.65,309.82 M559.48,391.63 L581.62,367.11 M581.77,396.23 L642.31,329.19 M536.14,372.23 L572.3,332.18 M571.9,395.85 L627.18,334.62 M532.97,371.06 L567.33,333.01 M570.03,390.06 L628.68,325.09 M547.02,383.26 L559.45,369.5 M533.63,374.41 L594.97,306.48 M553.46,388.31 L607.61,328.33 M556.97,382.79 L615.03,318.48 M532.77,373.92 L587.95,312.8 M525.97,369.83 L538.41,356.06 M556.72,383.58 L608.38,326.36 M566.2,391.7 L605.98,347.64 M577.26,401.35 L606.23,369.27 M582.35,397.65 L638.93,334.97 M550.36,378.48 L593.45,330.75 M542.71,379.11 L601.45,314.05 M577.78,397.16 L601.84,370.52 M579.49,398.07 L615.93,357.71 M547.53,381.27 L612.51,309.3 M549.29,381.5 L607.43,317.1 M541.35,380.45 L556.11,364.1 M554.39,389.14 L607.96,329.82 M546.76,377.81 L587.39,332.8 M579.5,395.65 L613.26,358.25 M558.85,386.57 L599.33,341.73 M560.51,384.95 L583.91,359.04 M583.26,399.12 L637.96,338.53 M563.76,390.23 L583.37,368.51 M527.92,364.21 L602.79,281.29 M531.94,374.79 L606.61,292.09 M532.64,368.76 L577.9,318.63 M532.8,373.52 L604.66,293.92 M541.64,376.02 L593.33,318.77 M561.87,390.28 L579.12,371.18 M559.34,386.52 L590.15,352.4 M557.62,389.06 L618.89,321.19 M543.58,377.61 L570.49,347.81 M532.42,373.34 L542.79,361.85 M529.44,368.28 L593.57,297.26 M545.93,378.37 L606.79,310.97 M578.52,400.67 L622.02,352.5 M527.94,371.7 L554.95,341.78 M571.87,390.37 L589.4,370.95 M541.42,381.25 L583.16,335.01 M546.74,385.87 L582.78,345.95 M529.37,368.56 L570.33,323.19 M542.19,378.93 L580.91,336.05 M536.64,378.46 L584.54,325.4 M532.47,373.65 L583.39,317.25 M547.84,376.07 L580.24,340.18 M563.64,391.85 L618.03,331.61 M550.49,381.01 L579.18,349.23 M549.44,382.15 L586.79,340.78 M561.39,388.91 L587.76,359.71 M575.22,392.62 L626.77,335.52 M577.92,393.53 L614.93,352.55 M542.61,374.07 L590.51,321.01 M543.24,380.04 L594.96,322.76 M532.56,368.46 L603.39,290.01 M533.21,374.12 L591.94,309.07 M570.8,395.88 L615.82,346.02 M562.53,383.74 L604.23,337.55 M532,371.41 L562.88,337.2 M535.6,370.25 L594.19,305.36 M550.46,379.17 L583.7,342.36 M568.67,391.96 L614.6,341.08 M576.22,399.19 L614.9,356.35 M572.3,391.08 L597.69,362.96 M543.34,376.66 L618.74,293.16 M580.86,399.66 L589.64,389.94 M573.69,396.49 L629.98,334.14 M551.3,383.04 L613.45,314.2 M538.03,378.84 L565.64,348.27 M574.96,397.16 L620.26,346.98 M562.72,387.53 L578.47,370.1 M536.72,372.6 L569.91,335.84 M534.56,370.49 L578.72,321.58 M532.5,371.63 L604.58,291.8 M544.43,381.59 L589.82,331.32 M556.77,385.23 L614.45,321.35 M562.78,389.83 L592.61,356.79 M561.81,385.41 L610.5,331.49 M542.86,378.5 L594.4,321.41 M554.27,384.51 L616.8,315.25 M544.72,380.25 L580.2,340.96 M532.37,375.03 L596.03,304.52 M580.79,399.72 L618.21,358.27 M543.7,373.28 L594.56,316.95 M554.5,383.06 L584.33,350.02 M580.79,395.91 L637.32,333.31 M582.75,401.21 L637.03,341.09 M584.1,400.3 L615.45,365.58 M532.21,367.28 L587.67,305.85 M573.74,398.8 L620.97,346.49 M534.11,370.57 L575.28,324.97 M568.94,395.1 L599.26,361.52 M572.8,393.93 L583.95,381.59 M537.23,378.34 L590.69,319.14 M532.61,376.29 L602.58,298.79 M559.17,382.01 L593.73,343.73 M543.54,381.77 L604.36,314.41 M560.79,389.44 L615.58,328.75 M580.28,395.89 L621.53,350.21 M549.5,381.12 L601.47,323.57 M578.48,398.95 L632.11,339.55 M568.37,394.46 L614.4,343.48 M554.88,387.09 L599.85,337.29 M564.41,388.08 L623.9,322.2 M563.13,384.39 L591.68,352.76 M571.26,395.52 L598.84,364.98 M529.95,372.69 L580.07,317.18 M566.35,387.92 L612.28,337.05 M555.85,389.11 L614.86,323.76 M559.93,381.28 L622.89,311.56 M581.06,398.01 L630.85,342.87 M547.67,379.29 L562.91,362.4 M548.09,379.06 L613.81,306.27 M543.84,373.1 L556.79,358.76 M579.51,396.38 L601.9,371.58 M565.77,394.57 L572.57,387.03 M581.7,390.98 L638.21,328.39 M556.96,387.1 L604.51,334.43 M536.74,367.04 L577.1,322.33 M557.2,385.87 L587.15,352.7 M541.45,375.88 L573.43,340.45 M530.7,370.18 L601.23,292.06 M580.21,399.74 L612.06,364.47 M540.79,373.08 L551.15,361.6 M554.4,385.02 L606.45,327.37 M544.29,376.37 L559.16,359.91 M566.13,388.38 L614.43,334.88 M549.38,379.66 L621.35,299.95 M534.06,368.49 L591.29,305.1 M552.12,381.12 L600.09,327.99 M557.18,379.97 L590.52,343.04 M545.4,377.65 L580.07,339.25 M581.91,401.15 L613.28,366.4 M550.91,381.68 L623.23,301.58 M548.01,382.17 L596.98,327.94 M566.14,388 L624.92,322.9 M541.98,382.08 L588.72,330.31 M564.8,392.34 L629.26,320.95 M558.31,392.28 L609.29,335.82 M546.59,382.21 L570.69,355.51 M557.39,389.84 L571.84,373.85 M532.39,373.29 L606.07,291.69 M537.58,379.13 L583.21,328.6 M538.65,377.73 L600.94,308.75 M560.79,386.66 L596.73,346.86 M541.03,379.4 L561.77,356.43 M564.58,392.45 L586.82,367.81 M551.05,382.24 L578.81,351.51 M581.99,398.87 L630.16,345.52 M533.53,373.51 L564.98,338.68 M547.74,378.51 L603.12,317.18 M567.83,390.76 L616.26,337.13 M562.98,388.95 L599.8,348.16 M557.99,388.71 L588.15,355.3 M562.56,392.95 L570.64,384.01 M526.25,367.55 L595.47,290.89 M569.4,395.5 L615.76,344.14 M583.63,398.92 L629.95,347.61 M542.02,379.29 L577.91,339.54 M534.54,372.26 L584.02,317.47 M544.81,380.21 L601.46,317.47 M541.72,376.78 L602.59,309.36 M535.78,370.5 L569.01,333.7 M539.88,376.35 L573.2,339.45 M576.32,399.26 L591.12,382.87 M560.27,384.92 L612.06,327.56 M561.38,384.15 L596.89,344.82 M565.11,392.63 L573.25,383.62 M542.05,375 L587.25,324.93 M532.8,372.86 L587.55,312.22 M551.85,383.14 L621.33,306.19 M559.12,387.89 L592.81,350.58 M579.28,400.73 L629.01,345.65 M528.55,375.49 L568.5,331.24 M557.81,387.67 L591,350.92 M539.39,379.58 L581.15,333.32 M578.24,397.95 L629.05,341.68 M581.13,394.88 L611.89,360.81 M536.81,373.84 L570.73,336.27 M571.25,392.36 L632.38,324.66" stroke="#c6aae6" stroke-width="0.75" fill="none"/>
<path d="M525.12,371.37 l0.01,0 M610.64,276.65 l0.01,0 M560.45,391.36 l0.01,0 M594.45,353.71 l0.01,0 M563.34,387.53 l0.01,0 M533.45,373.83 l0.01,0 M610.91,288.04 l0.01,0 M541.82,375.45 l0.01,0 M592.91,318.86 l0.01,0 M542.35,373.33 l0.01,0 M534.08,368.15 l0.01,0 M578.04,319.47 l0.01,0 M555.93,343.95 l0.01,0 M570.58,327.73 l0.01,0 M556.46,343.37 l0.01,0 M556.32,343.53 l0.01,0 M559.91,339.55 l0.01,0 M572.09,326.06 l0.01,0 M559.21,340.32 l0.01,0 M573.44,324.56 l0.01,0 M571.96,326.2 l0.01,0 M568.38,330.17 l0.01,0 M534.77,366.13 l0.01,0 M557.02,387.6 l0.01,0 M609.72,329.23 l0.01,0 M593.69,346.98 l0.01,0 M574.63,368.1 l0.01,0 M589.95,351.13 l0.01,0 M594.21,346.41 l0.01,0 M580.62,361.46 l0.01,0 M596.2,344.21 l0.01,0 M597.67,342.58 l0.01,0 M572.78,370.15 l0.01,0 M559.52,387.06 l0.01,0 M532.03,370.09 l0.01,0 M539.61,361.7 l0.01,0 M533.22,371.73 l0.01,0 M573.89,397.03 l0.01,0 M634.83,329.53 l0.01,0 M616.75,349.56 l0.01,0 M631.48,333.24 l0.01,0 M600.33,367.74 l0.01,0 M610.59,356.37 l0.01,0 M610.72,356.24 l0.01,0 M598.37,369.91 l0.01,0 M610.13,356.88 l0.01,0 M630.56,334.26 l0.01,0 M617.86,348.33 l0.01,0 M597.43,370.96 l0.01,0 M617.2,349.06 l0.01,0 M613.98,352.62 l0.01,0 M602.32,365.54 l0.01,0 M616.62,349.7 l0.01,0 M602.66,365.17 l0.01,0 M621.82,343.94 l0.01,0 M603.22,364.54 l0.01,0 M623.85,341.69 l0.01,0 M598.93,369.29 l0.01,0 M525.83,371.91 l0.01,0 M541.93,354.09 l0.01,0 M532.17,364.89 l0.01,0 M535.19,361.55 l0.01,0 M527.79,369.62 l0.01,0 M527.52,367.33 l0.01,0 M592.05,295.85 l0.01,0 M561.94,329.21 l0.01,0 M555.83,335.98 l0.01,0 M556.38,335.37 l0.01,0 M566.5,324.16 l0.01,0 M559.81,331.56 l0.01,0 M573.33,316.59 l0.01,0 M574.35,315.47 l0.01,0 M567.94,322.57 l0.01,0 M559.25,332.19 l0.01,0 M569.91,320.38 l0.01,0 M560.65,330.64 l0.01,0 M528.98,365.65 l0.01,0 M572.52,389.47 l0.01,0 M637.92,317.05 l0.01,0 M628,328.03 l0.01,0 M634.86,320.43 l0.01,0 M624.85,331.52 l0.01,0 M635.9,319.29 l0.01,0 M635.03,320.24 l0.01,0 M533.37,371.81 l0.01,0 M589.76,309.36 l0.01,0 M531.65,380.23 l0.01,0 M566.95,341.13 l0.01,0 M541.44,369.39 l0.01,0 M543.18,367.46 l0.01,0 M538.76,372.36 l0.01,0 M544.14,366.4 l0.01,0 M540.8,370.1 l0.01,0 M549.55,360.4 l0.01,0 M534.9,377.83 l0.01,0 M559.73,388.01 l0.01,0 M599.4,344.07 l0.01,0 M562.71,384.05 l0.01,0 M531.43,376.69 l0.01,0 M604.49,295.78 l0.01,0 M534.54,373.32 l0.01,0 M557.5,347.89 l0.01,0 M555.3,350.32 l0.01,0 M555.97,349.58 l0.01,0 M555.99,349.57 l0.01,0 M552.96,385.87 l0.01,0 M599.72,334.08 l0.01,0 M594.91,339.41 l0.01,0 M554.52,385.82 l0.01,0 M548.21,376.53 l0.01,0 M604.28,314.43 l0.01,0 M595.32,324.35 l0.01,0 M595.4,324.26 l0.01,0 M600.64,318.46 l0.01,0 M540.11,379.12 l0.01,0 M565.11,351.43 l0.01,0 M559.53,357.61 l0.01,0 M563.22,353.51 l0.01,0 M541.64,378.69 l0.01,0 M563.79,391.27 l0.01,0 M613.76,335.93 l0.01,0 M569.16,389.54 l0.01,0 M635.35,316.23 l0.01,0 M618.94,334.4 l0.01,0 M617.78,335.69 l0.01,0 M623.39,329.48 l0.01,0 M622.88,330.04 l0.01,0 M618.82,334.54 l0.01,0 M632.15,319.77 l0.01,0 M631.61,320.37 l0.01,0 M628.25,324.09 l0.01,0 M626.43,326.11 l0.01,0 M626.22,326.34 l0.01,0 M609.47,344.89 l0.01,0 M618.89,334.46 l0.01,0 M575.95,384.91 l0.01,0 M540.02,379.27 l0.01,0 M593.35,320.2 l0.01,0 M562.3,354.6 l0.01,0 M556.98,360.48 l0.01,0 M557.95,359.41 l0.01,0 M568.78,347.41 l0.01,0 M570.4,345.62 l0.01,0 M563.34,353.44 l0.01,0 M563.85,352.87 l0.01,0 M559.83,357.33 l0.01,0 M568.75,347.45 l0.01,0 M576.14,396.07 l0.01,0 M628.1,338.53 l0.01,0 M591.56,379 l0.01,0 M607.82,360.98 l0.01,0 M611.29,357.15 l0.01,0 M594.07,376.21 l0.01,0 M618.6,349.05 l0.01,0 M591.28,379.3 l0.01,0 M620.59,346.84 l0.01,0 M593.97,376.33 l0.01,0 M601.95,367.48 l0.01,0 M614.23,353.88 l0.01,0 M602.98,366.35 l0.01,0 M592.92,377.49 l0.01,0 M578.46,393.91 l0.01,0 M533.96,373.86 l0.01,0 M567.89,336.29 l0.01,0 M554.8,350.78 l0.01,0 M563.84,340.77 l0.01,0 M564.4,340.15 l0.01,0 M562.32,342.45 l0.01,0 M535.64,373 l0.01,0 M535.13,375.33 l0.01,0 M582.63,322.73 l0.01,0 M539.59,370.84 l0.01,0 M563.07,389.7 l0.01,0 M582.87,367.77 l0.01,0 M571.28,380.6 l0.01,0 M571.96,379.85 l0.01,0 M578.75,372.33 l0.01,0 M564.3,388.03 l0.01,0 M565.91,391.62 l0.01,0 M629.31,321.4 l0.01,0 M591.77,362.97 l0.01,0 M597.57,356.55 l0.01,0 M605.77,347.47 l0.01,0 M608.42,344.53 l0.01,0 M595.17,359.21 l0.01,0 M599.72,354.17 l0.01,0 M610.47,342.26 l0.01,0 M566.07,388.47 l0.01,0 M545.7,377.54 l0.01,0 M564.54,356.67 l0.01,0 M563.18,384.61 l0.01,0 M616.02,326.09 l0.01,0 M607.97,335.01 l0.01,0 M606.31,336.85 l0.01,0 M607.95,335.02 l0.01,0 M609.4,333.42 l0.01,0 M613.27,329.14 l0.01,0 M566.4,380.31 l0.01,0 M548.61,377.29 l0.01,0 M578.07,344.66 l0.01,0 M567.78,356.05 l0.01,0 M568.62,355.13 l0.01,0 M564.69,359.48 l0.01,0 M567.54,356.32 l0.01,0 M547.9,376.59 l0.01,0 M580.68,399.94 l0.01,0 M635,339.78 l0.01,0 M618.09,358.51 l0.01,0 M610.58,366.82 l0.01,0 M618.75,357.77 l0.01,0 M608.38,369.26 l0.01,0 M616.81,359.93 l0.01,0 M603.97,374.14 l0.01,0 M612.36,364.85 l0.01,0 M612.57,364.62 l0.01,0 M598.72,379.96 l0.01,0 M601.95,376.39 l0.01,0 M611.64,365.65 l0.01,0 M620.49,355.85 l0.01,0 M621.83,354.37 l0.01,0 M622.77,353.32 l0.01,0 M582.13,399.3 l0.01,0 M559.84,391.92 l0.01,0 M593.16,355.02 l0.01,0 M533.07,377.88 l0.01,0 M590.25,314.54 l0.01,0 M578.42,327.65 l0.01,0 M572.76,333.92 l0.01,0 M577.59,328.57 l0.01,0 M580.61,325.22 l0.01,0 M576.05,330.27 l0.01,0 M566.84,340.47 l0.01,0 M578.24,327.84 l0.01,0 M537.82,372.73 l0.01,0 M584.65,400.58 l0.01,0 M612.84,369.35 l0.01,0 M602.11,381.24 l0.01,0 M604.06,379.07 l0.01,0 M601.79,381.59 l0.01,0 M600.91,382.57 l0.01,0 M592.76,391.59 l0.01,0 M601.64,381.75 l0.01,0 M599.68,383.92 l0.01,0 M590.19,394.43 l0.01,0 M604.87,378.18 l0.01,0 M586.39,399.34 l0.01,0 M544.97,376.5 l0.01,0 M603,312.22 l0.01,0 M586.43,330.58 l0.01,0 M585.55,331.55 l0.01,0 M582.19,335.28 l0.01,0 M579.86,337.85 l0.01,0 M554.21,381.92 l0.01,0 M609.06,321.17 l0.01,0 M572.87,361.25 l0.01,0 M569.07,365.45 l0.01,0 M565.11,369.84 l0.01,0 M586.09,346.6 l0.01,0 M578.48,355.03 l0.01,0 M591.83,340.25 l0.01,0 M563.29,371.86 l0.01,0 M570.59,363.77 l0.01,0 M579.87,353.49 l0.01,0 M585.99,346.72 l0.01,0 M572.45,361.71 l0.01,0 M562.96,372.23 l0.01,0 M570.79,363.55 l0.01,0 M577.95,355.62 l0.01,0 M593.62,338.27 l0.01,0 M581.21,352.01 l0.01,0 M588.8,343.6 l0.01,0 M588.38,344.07 l0.01,0 M572.48,361.68 l0.01,0 M575.52,358.32 l0.01,0 M588.37,344.08 l0.01,0 M584.04,348.87 l0.01,0 M571.34,362.94 l0.01,0 M563.06,372.11 l0.01,0 M555.52,379.19 l0.01,0 M535.6,371.85 l0.01,0 M578.67,324.14 l0.01,0 M539.46,368.39 l0.01,0 M570.8,388.41 l0.01,0 M610.19,344.78 l0.01,0 M596.68,359.75 l0.01,0 M596.71,359.71 l0.01,0 M590.48,366.61 l0.01,0 M598.44,357.8 l0.01,0 M557.44,387.67 l0.01,0 M627.33,310.26 l0.01,0 M551.71,380.63 l0.01,0 M582.06,347.02 l0.01,0 M562.3,368.9 l0.01,0 M563.69,367.36 l0.01,0 M564.66,366.29 l0.01,0 M570.24,360.1 l0.01,0 M559.45,372.06 l0.01,0 M559.77,371.7 l0.01,0 M551.59,379.42 l0.01,0 M558.22,389.93 l0.01,0 M605.73,337.32 l0.01,0 M576.61,394.6 l0.01,0 M629.84,335.64 l0.01,0 M599.72,369 l0.01,0 M590.08,379.69 l0.01,0 M594.01,375.32 l0.01,0 M582.69,387.86 l0.01,0 M594.24,375.08 l0.01,0 M608.45,359.34 l0.01,0 M593.69,375.69 l0.01,0 M596.35,372.73 l0.01,0 M586.28,383.89 l0.01,0 M604.67,363.52 l0.01,0 M594.69,374.58 l0.01,0 M593.62,375.76 l0.01,0 M571.25,393.26 l0.01,0 M610.66,349.61 l0.01,0 M575.31,388.77 l0.01,0 M584.17,378.95 l0.01,0 M600.59,360.77 l0.01,0 M589.14,373.45 l0.01,0 M586.05,376.87 l0.01,0 M577.65,386.18 l0.01,0 M582.45,380.86 l0.01,0 M591.51,370.82 l0.01,0 M601.47,359.8 l0.01,0 M593.8,368.29 l0.01,0 M572.35,389.64 l0.01,0 M534.5,377.53 l0.01,0 M543.75,367.27 l0.01,0 M538.56,373.03 l0.01,0 M540.74,370.61 l0.01,0 M565.17,386.21 l0.01,0 M619.66,325.86 l0.01,0 M534.6,376.19 l0.01,0 M570.08,336.89 l0.01,0 M535.48,375.6 l0.01,0 M529.21,374.17 l0.01,0 M568.38,330.79 l0.01,0 M554.57,346.09 l0.01,0 M559.79,340.31 l0.01,0 M560.71,339.28 l0.01,0 M580.94,399.3 l0.01,0 M620.59,355.38 l0.01,0 M608.84,368.4 l0.01,0 M594.48,384.31 l0.01,0 M612.37,364.49 l0.01,0 M594.03,384.8 l0.01,0 M607.78,369.58 l0.01,0 M600.39,377.76 l0.01,0 M592.66,386.33 l0.01,0 M600.26,377.9 l0.01,0 M598.43,379.93 l0.01,0 M590.13,389.12 l0.01,0 M601.93,376.05 l0.01,0 M601.5,376.53 l0.01,0 M606.56,370.92 l0.01,0 M595.69,382.97 l0.01,0 M603.99,373.77 l0.01,0 M591.42,387.7 l0.01,0 M601.2,376.87 l0.01,0 M592.67,386.31 l0.01,0 M578.49,401.44 l0.01,0 M619.9,355.58 l0.01,0 M603.31,373.95 l0.01,0 M602.86,374.46 l0.01,0 M600.7,376.84 l0.01,0 M596.25,381.78 l0.01,0 M597.26,380.66 l0.01,0 M595.98,382.07 l0.01,0 M557.1,383.59 l0.01,0 M610.75,324.17 l0.01,0 M562.38,382.11 l0.01,0 M565.27,385.97 l0.01,0 M582.19,367.23 l0.01,0 M576.96,373.02 l0.01,0 M565.58,383.31 l0.01,0 M577.25,398.94 l0.01,0 M594.14,380.23 l0.01,0 M533.15,369.41 l0.01,0 M597.32,298.34 l0.01,0 M582.92,314.28 l0.01,0 M589.36,307.15 l0.01,0 M581.53,315.83 l0.01,0 M534.91,368.7 l0.01,0 M562.95,388.82 l0.01,0 M581.25,368.56 l0.01,0 M573.92,376.67 l0.01,0 M574.15,376.42 l0.01,0 M576.61,373.69 l0.01,0 M550.52,382.31 l0.01,0 M585.41,343.68 l0.01,0 M552.76,380.22 l0.01,0 M532.51,370.12 l0.01,0 M549.43,351.38 l0.01,0 M534.26,371.11 l0.01,0 M527.27,370.84 l0.01,0 M581.32,310.98 l0.01,0 M567.89,325.85 l0.01,0 M579.74,312.72 l0.01,0 M569.62,323.93 l0.01,0 M571.34,322.03 l0.01,0 M578.55,314.04 l0.01,0 M572.08,321.2 l0.01,0 M571.66,321.68 l0.01,0 M567.41,326.38 l0.01,0 M529.29,371.34 l0.01,0 M536.62,371.41 l0.01,0 M596.98,304.56 l0.01,0 M543.53,375.75 l0.01,0 M610.5,301.57 l0.01,0 M546.15,372.63 l0.01,0 M547.28,378.13 l0.01,0 M590.29,330.5 l0.01,0 M551.95,375.18 l0.01,0 M564.8,391.46 l0.01,0 M599.41,353.13 l0.01,0 M581.77,372.66 l0.01,0 M583.95,370.26 l0.01,0 M577.75,377.12 l0.01,0 M573.84,381.46 l0.01,0 M574.16,381.1 l0.01,0 M548.91,380.09 l0.01,0 M572.41,354.06 l0.01,0 M568.67,358.2 l0.01,0 M548.36,379.15 l0.01,0 M538.13,381.73 l0.01,0 M612.4,299.47 l0.01,0 M587.3,327.28 l0.01,0 M571.89,344.35 l0.01,0 M587.21,327.38 l0.01,0 M565.84,351.04 l0.01,0 M602.24,310.73 l0.01,0 M602.47,310.48 l0.01,0 M587.9,326.61 l0.01,0 M583.68,331.28 l0.01,0 M580.52,334.79 l0.01,0 M595.05,318.69 l0.01,0 M588.01,326.49 l0.01,0 M593.43,320.49 l0.01,0 M582.42,332.69 l0.01,0 M580.63,334.66 l0.01,0 M593.98,319.88 l0.01,0 M571.58,344.68 l0.01,0 M578.24,337.32 l0.01,0 M574.04,341.97 l0.01,0 M572.61,343.55 l0.01,0 M540.42,378.79 l0.01,0 M550.74,378.72 l0.01,0 M613.76,308.92 l0.01,0 M553.04,372.53 l0.01,0 M554.82,384.04 l0.01,0 M591.58,343.33 l0.01,0 M556.75,380.42 l0.01,0 M541.99,377.96 l0.01,0 M585.56,329.72 l0.01,0 M545.72,375.58 l0.01,0 M556.67,363.45 l0.01,0 M549.23,371.7 l0.01,0 M555.31,364.96 l0.01,0 M554.93,365.38 l0.01,0 M547.78,373.53 l0.01,0 M547.07,384.95 l0.01,0 M603.78,322.13 l0.01,0 M581.21,347.13 l0.01,0 M571.06,358.37 l0.01,0 M597.46,329.14 l0.01,0 M579.55,348.97 l0.01,0 M570.71,358.77 l0.01,0 M564.14,366.04 l0.01,0 M560.61,369.95 l0.01,0 M584.17,343.85 l0.01,0 M569.33,360.29 l0.01,0 M568.05,361.71 l0.01,0 M583.97,344.08 l0.01,0 M584.5,343.49 l0.01,0 M583.38,344.73 l0.01,0 M557.39,373.51 l0.01,0 M588.51,339.05 l0.01,0 M587.62,340.04 l0.01,0 M597.42,329.17 l0.01,0 M595.36,331.46 l0.01,0 M588.6,338.95 l0.01,0 M594.99,331.87 l0.01,0 M580.53,347.89 l0.01,0 M579.96,348.51 l0.01,0 M570.39,359.12 l0.01,0 M570.39,359.11 l0.01,0 M550.58,379.61 l0.01,0 M545.73,374.23 l0.01,0 M584.42,331.38 l0.01,0 M567.2,350.46 l0.01,0 M581.4,334.73 l0.01,0 M575.58,341.17 l0.01,0 M572.81,344.24 l0.01,0 M579.9,336.39 l0.01,0 M573.26,343.74 l0.01,0 M567.48,350.15 l0.01,0 M571.48,345.71 l0.01,0 M579.28,337.08 l0.01,0 M577.02,339.58 l0.01,0 M574.24,342.65 l0.01,0 M565.05,352.83 l0.01,0 M550.98,384.52 l0.01,0 M603.19,326.7 l0.01,0 M587.59,343.97 l0.01,0 M576.48,356.28 l0.01,0 M589.72,341.62 l0.01,0 M586.87,344.77 l0.01,0 M583.61,348.38 l0.01,0 M591.13,340.05 l0.01,0 M582.68,349.41 l0.01,0 M582.15,350 l0.01,0 M571.98,361.26 l0.01,0 M590.85,340.37 l0.01,0 M566.48,367.35 l0.01,0 M543.58,378.24 l0.01,0 M571.33,347.51 l0.01,0 M544.26,377.54 l0.01,0 M576.59,401.69 l0.01,0 M602.58,372.9 l0.01,0 M585,392.38 l0.01,0 M590.29,386.52 l0.01,0 M596.84,379.27 l0.01,0 M584.28,393.18 l0.01,0 M585.33,392.01 l0.01,0 M579.78,402.08 l0.01,0 M615.26,362.79 l0.01,0 M582.81,401.24 l0.01,0 M531.37,369.04 l0.01,0 M605.66,286.76 l0.01,0 M598.15,295.08 l0.01,0 M583.16,311.68 l0.01,0 M593.41,300.33 l0.01,0 M594.04,299.63 l0.01,0 M594.55,299.06 l0.01,0 M585.52,309.07 l0.01,0 M583.81,310.96 l0.01,0 M593.23,300.53 l0.01,0 M586.63,307.83 l0.01,0 M592.73,301.08 l0.01,0 M531.1,365.48 l0.01,0 M558.83,385.92 l0.01,0 M568.6,375.09 l0.01,0 M564.11,380.08 l0.01,0 M563.14,386.84 l0.01,0 M630.22,312.55 l0.01,0 M563.78,386.17 l0.01,0 M573.73,396.18 l0.01,0 M604.66,361.91 l0.01,0 M575.37,393.14 l0.01,0 M580.09,399.38 l0.01,0 M613.68,362.17 l0.01,0 M604.03,372.86 l0.01,0 M602.99,374.01 l0.01,0 M603.04,373.96 l0.01,0 M603.73,373.2 l0.01,0 M605.34,371.41 l0.01,0 M581.82,396.29 l0.01,0 M549.39,385.4 l0.01,0 M590.69,339.65 l0.01,0 M584.06,347 l0.01,0 M581.76,349.55 l0.01,0 M552.67,378.82 l0.01,0 M573.71,395.49 l0.01,0 M627.62,335.79 l0.01,0 M622.91,340.99 l0.01,0 M626.66,336.85 l0.01,0 M607.88,357.64 l0.01,0 M612.54,352.48 l0.01,0 M617.62,346.86 l0.01,0 M623.31,340.55 l0.01,0 M537.91,377.63 l0.01,0 M600.29,308.54 l0.01,0 M577.2,334.11 l0.01,0 M583.32,327.33 l0.01,0 M569.98,342.11 l0.01,0 M587.29,322.94 l0.01,0 M588.85,321.21 l0.01,0 M588.69,321.39 l0.01,0 M541.31,373.82 l0.01,0 M581.25,400.23 l0.01,0 M638.71,336.59 l0.01,0 M614.49,363.41 l0.01,0 M597.34,382.41 l0.01,0 M607.79,370.83 l0.01,0 M625.4,351.32 l0.01,0 M606.3,372.48 l0.01,0 M597.99,381.68 l0.01,0 M620.61,356.63 l0.01,0 M623.71,353.2 l0.01,0 M606.99,371.71 l0.01,0 M613.53,364.47 l0.01,0 M624.14,352.73 l0.01,0 M620.66,356.58 l0.01,0 M608.42,370.14 l0.01,0 M603.41,375.69 l0.01,0 M607.62,371.02 l0.01,0 M600.71,378.67 l0.01,0 M598.75,380.85 l0.01,0 M598.2,381.45 l0.01,0 M582.51,398.24 l0.01,0 M555.08,383 l0.01,0 M570.26,366.19 l0.01,0 M568.73,367.89 l0.01,0 M561.47,389.35 l0.01,0 M567.89,382.24 l0.01,0 M549.37,381.21 l0.01,0 M586.3,340.31 l0.01,0 M568.54,359.98 l0.01,0 M574.65,353.2 l0.01,0 M576.02,351.7 l0.01,0 M576.51,351.14 l0.01,0 M565.82,362.98 l0.01,0 M553.6,378.32 l0.01,0 M549.45,377.67 l0.01,0 M595.63,326.53 l0.01,0 M577.12,347.03 l0.01,0 M562.29,363.45 l0.01,0 M553.43,373.26 l0.01,0 M588.75,334.14 l0.01,0 M585.48,337.76 l0.01,0 M580.52,343.25 l0.01,0 M577.49,346.61 l0.01,0 M583.87,339.55 l0.01,0 M562.64,363.06 l0.01,0 M589.85,332.93 l0.01,0 M576.13,348.12 l0.01,0 M570.77,354.06 l0.01,0 M559.88,366.12 l0.01,0 M553.97,372.67 l0.01,0 M592.53,329.96 l0.01,0 M568.63,356.43 l0.01,0 M554.16,372.46 l0.01,0 M585.58,337.65 l0.01,0 M564.4,361.11 l0.01,0 M582.4,341.18 l0.01,0 M556.34,370.04 l0.01,0 M575.67,348.63 l0.01,0 M583.94,339.47 l0.01,0 M575.96,348.31 l0.01,0 M580.91,342.83 l0.01,0 M559.17,366.91 l0.01,0 M551.71,373.3 l0.01,0 M557.22,385.27 l0.01,0 M574.93,365.64 l0.01,0 M573.14,367.63 l0.01,0 M568.34,372.95 l0.01,0 M572.37,368.48 l0.01,0 M570.32,390.85 l0.01,0 M625.28,329.98 l0.01,0 M591.38,367.52 l0.01,0 M600.36,357.58 l0.01,0 M579.77,380.39 l0.01,0 M594.16,364.45 l0.01,0 M584,375.71 l0.01,0 M575.63,384.98 l0.01,0 M580.26,379.84 l0.01,0 M577.81,382.55 l0.01,0 M579.37,380.83 l0.01,0 M575.47,385.15 l0.01,0 M605.57,351.82 l0.01,0 M585.8,373.71 l0.01,0 M571.34,393.5 l0.01,0 M564.57,386.52 l0.01,0 M601.4,345.73 l0.01,0 M582.6,366.55 l0.01,0 M590.17,358.17 l0.01,0 M590.69,357.59 l0.01,0 M588.45,360.07 l0.01,0 M585.49,363.35 l0.01,0 M586.52,362.21 l0.01,0 M589.5,358.91 l0.01,0 M538.5,378.39 l0.01,0 M569.98,343.53 l0.01,0 M527.42,369.35 l0.01,0 M586.47,303.94 l0.01,0 M583.05,307.74 l0.01,0 M567.3,325.17 l0.01,0 M575.01,316.63 l0.01,0 M571.49,320.53 l0.01,0 M580.34,310.73 l0.01,0 M573.99,317.77 l0.01,0 M584.63,305.98 l0.01,0 M565.71,394.33 l0.01,0 M616.22,338.38 l0.01,0 M567.57,392.87 l0.01,0 M540.41,381.93 l0.01,0 M601.87,313.86 l0.01,0 M568.84,350.44 l0.01,0 M564.63,355.1 l0.01,0 M566.12,353.45 l0.01,0 M567.35,352.09 l0.01,0 M583.6,334.09 l0.01,0 M571.14,347.89 l0.01,0 M575.51,343.05 l0.01,0 M573.78,344.97 l0.01,0 M583.25,334.49 l0.01,0 M580.23,337.83 l0.01,0 M582.5,335.32 l0.01,0 M581.26,336.69 l0.01,0 M540.55,380.3 l0.01,0 M573.13,394.33 l0.01,0 M608.94,354.68 l0.01,0 M545.7,377.32 l0.01,0 M606.65,309.82 l0.01,0 M570.57,349.78 l0.01,0 M567.19,353.52 l0.01,0 M596.14,321.46 l0.01,0 M570.29,350.09 l0.01,0 M582,337.13 l0.01,0 M594.65,323.11 l0.01,0 M581.06,338.17 l0.01,0 M580.71,338.55 l0.01,0 M568.61,351.95 l0.01,0 M598.46,318.89 l0.01,0 M585.53,333.21 l0.01,0 M588.1,330.37 l0.01,0 M577.49,342.12 l0.01,0 M589.79,328.49 l0.01,0 M576.92,342.74 l0.01,0 M559.48,391.63 l0.01,0 M581.62,367.11 l0.01,0 M573.45,376.16 l0.01,0 M574.76,374.71 l0.01,0 M581.77,396.23 l0.01,0 M642.31,329.19 l0.01,0 M635.28,336.97 l0.01,0 M633.78,338.63 l0.01,0 M536.14,372.23 l0.01,0 M572.3,332.18 l0.01,0 M559.23,346.66 l0.01,0 M562.44,343.1 l0.01,0 M555.47,350.83 l0.01,0 M554.4,352.01 l0.01,0 M541.56,366.23 l0.01,0 M553.33,353.19 l0.01,0 M541.69,366.09 l0.01,0 M558.12,347.89 l0.01,0 M560.06,345.74 l0.01,0 M546.44,360.82 l0.01,0 M549.86,357.04 l0.01,0 M540.71,367.17 l0.01,0 M536.46,370.59 l0.01,0 M571.9,395.85 l0.01,0 M627.18,334.62 l0.01,0 M619.8,342.8 l0.01,0 M619.21,343.44 l0.01,0 M609.91,353.75 l0.01,0 M626.03,335.89 l0.01,0 M613.18,350.13 l0.01,0 M619.13,343.53 l0.01,0 M532.97,371.06 l0.01,0 M567.33,333.01 l0.01,0 M533.04,370.87 l0.01,0 M570.03,390.06 l0.01,0 M628.68,325.09 l0.01,0 M547.02,383.26 l0.01,0 M559.45,369.5 l0.01,0 M553.9,375.65 l0.01,0 M551.36,378.46 l0.01,0 M533.63,374.41 l0.01,0 M594.97,306.48 l0.01,0 M553.46,388.31 l0.01,0 M607.61,328.33 l0.01,0 M595.72,341.5 l0.01,0 M596.58,340.55 l0.01,0 M597.09,339.99 l0.01,0 M556.97,382.79 l0.01,0 M615.03,318.48 l0.01,0 M532.77,373.92 l0.01,0 M587.95,312.8 l0.01,0 M579.87,321.76 l0.01,0 M576.64,325.33 l0.01,0 M583.4,317.85 l0.01,0 M581.88,319.52 l0.01,0 M537.17,374.12 l0.01,0 M525.97,369.83 l0.01,0 M538.41,356.06 l0.01,0 M532.99,362.06 l0.01,0 M531.52,363.69 l0.01,0 M533.48,361.52 l0.01,0 M527.21,367.03 l0.01,0 M556.72,383.58 l0.01,0 M608.38,326.36 l0.01,0 M566.2,391.7 l0.01,0 M605.98,347.64 l0.01,0 M578.55,378.03 l0.01,0 M582.96,373.14 l0.01,0 M574.88,382.08 l0.01,0 M572.31,384.93 l0.01,0 M577.48,379.21 l0.01,0 M579.92,376.5 l0.01,0 M588.46,367.05 l0.01,0 M588.69,366.79 l0.01,0 M587.29,368.34 l0.01,0 M575.93,380.93 l0.01,0 M587.32,368.31 l0.01,0 M576.34,380.47 l0.01,0 M566.22,390.43 l0.01,0 M577.26,401.35 l0.01,0 M606.23,369.27 l0.01,0 M582.35,397.65 l0.01,0 M638.93,334.97 l0.01,0 M608.78,368.37 l0.01,0 M602.68,375.12 l0.01,0 M618.73,357.35 l0.01,0 M594.57,384.11 l0.01,0 M616.27,360.07 l0.01,0 M616.21,360.14 l0.01,0 M616.52,359.79 l0.01,0 M618.63,357.46 l0.01,0 M609.8,367.24 l0.01,0 M616.27,360.07 l0.01,0 M611.59,365.25 l0.01,0 M607.96,369.27 l0.01,0 M618.27,357.86 l0.01,0 M613.48,363.16 l0.01,0 M607.05,370.29 l0.01,0 M610.12,366.88 l0.01,0 M608.19,369.02 l0.01,0 M550.36,378.48 l0.01,0 M593.45,330.75 l0.01,0 M542.71,379.11 l0.01,0 M601.45,314.05 l0.01,0 M569.47,349.47 l0.01,0 M551.63,369.23 l0.01,0 M555.56,364.88 l0.01,0 M569.65,349.27 l0.01,0 M554.38,366.19 l0.01,0 M570.92,347.86 l0.01,0 M578.59,339.37 l0.01,0 M575.18,343.15 l0.01,0 M574.88,343.47 l0.01,0 M568.14,350.94 l0.01,0 M557.31,362.94 l0.01,0 M577.78,397.16 l0.01,0 M601.84,370.52 l0.01,0 M599.27,373.37 l0.01,0 M597.03,375.84 l0.01,0 M577.57,399.34 l0.01,0 M579.49,398.07 l0.01,0 M615.93,357.71 l0.01,0 M592.27,383.91 l0.01,0 M603.29,371.71 l0.01,0 M604.8,370.04 l0.01,0 M593.62,382.41 l0.01,0 M593.12,382.97 l0.01,0 M597.94,377.63 l0.01,0 M580.54,393.74 l0.01,0 M547.53,381.27 l0.01,0 M612.51,309.3 l0.01,0 M587.91,336.54 l0.01,0 M559.5,368.01 l0.01,0 M582.85,342.15 l0.01,0 M566.95,359.76 l0.01,0 M578.3,347.19 l0.01,0 M551.71,376.63 l0.01,0 M554.7,373.32 l0.01,0 M553.73,374.4 l0.01,0 M580.14,345.15 l0.01,0 M567.33,359.33 l0.01,0 M555.92,371.98 l0.01,0 M562.27,364.94 l0.01,0 M580.3,344.97 l0.01,0 M572.94,353.12 l0.01,0 M576.11,349.61 l0.01,0 M577.98,347.54 l0.01,0 M554.12,373.97 l0.01,0 M587.84,336.62 l0.01,0 M551.59,376.77 l0.01,0 M589.16,335.16 l0.01,0 M567.43,359.23 l0.01,0 M557.47,370.25 l0.01,0 M586.65,337.94 l0.01,0 M549.29,381.5 l0.01,0 M607.43,317.1 l0.01,0 M564.25,364.93 l0.01,0 M559.48,370.21 l0.01,0 M567.76,361.04 l0.01,0 M569.52,359.09 l0.01,0 M574.39,353.69 l0.01,0 M571.12,357.32 l0.01,0 M572.48,355.82 l0.01,0 M563.57,365.68 l0.01,0 M564.41,364.75 l0.01,0 M541.35,380.45 l0.01,0 M556.11,364.1 l0.01,0 M551.26,369.48 l0.01,0 M550.45,370.37 l0.01,0 M554.39,389.14 l0.01,0 M607.96,329.82 l0.01,0 M546.76,377.81 l0.01,0 M587.39,332.8 l0.01,0 M548.84,374.86 l0.01,0 M579.5,395.65 l0.01,0 M613.26,358.25 l0.01,0 M600.05,372.89 l0.01,0 M601.54,371.23 l0.01,0 M601.6,371.16 l0.01,0 M580.96,396.39 l0.01,0 M558.85,386.57 l0.01,0 M599.33,341.73 l0.01,0 M578.24,365.09 l0.01,0 M579.29,363.93 l0.01,0 M589.72,352.38 l0.01,0 M592.4,349.4 l0.01,0 M589.55,352.56 l0.01,0 M596.1,345.31 l0.01,0 M590.8,351.18 l0.01,0 M562.66,382.98 l0.01,0 M560.51,384.95 l0.01,0 M583.91,359.04 l0.01,0 M571.78,372.47 l0.01,0 M575.39,368.47 l0.01,0 M577.25,366.41 l0.01,0 M568.76,375.82 l0.01,0 M562.16,382.38 l0.01,0 M583.26,399.12 l0.01,0 M637.96,338.53 l0.01,0 M620.4,357.99 l0.01,0 M616.59,362.21 l0.01,0 M613.71,365.4 l0.01,0 M616.81,361.96 l0.01,0 M618.76,359.8 l0.01,0 M624.24,353.73 l0.01,0 M627.48,350.14 l0.01,0 M589.57,393.56 l0.01,0 M563.76,390.23 l0.01,0 M583.37,368.51 l0.01,0 M569.91,383.42 l0.01,0 M574.26,378.6 l0.01,0 M565.8,387.97 l0.01,0 M579.66,372.62 l0.01,0 M571.28,381.9 l0.01,0 M566.23,387.77 l0.01,0 M527.92,364.21 l0.01,0 M602.79,281.29 l0.01,0 M531.94,374.79 l0.01,0 M606.61,292.09 l0.01,0 M574.4,327.77 l0.01,0 M587.27,313.51 l0.01,0 M599.57,299.88 l0.01,0 M574.57,327.57 l0.01,0 M590.47,309.96 l0.01,0 M583.88,317.26 l0.01,0 M576.99,324.89 l0.01,0 M581.87,319.49 l0.01,0 M532.64,368.76 l0.01,0 M577.9,318.63 l0.01,0 M557.91,340.77 l0.01,0 M560.15,338.29 l0.01,0 M562.54,335.64 l0.01,0 M536.61,362.95 l0.01,0 M532.8,373.52 l0.01,0 M604.66,293.92 l0.01,0 M592.2,307.73 l0.01,0 M596.3,303.19 l0.01,0 M592.13,307.8 l0.01,0 M538.6,366.42 l0.01,0 M541.64,376.02 l0.01,0 M593.33,318.77 l0.01,0 M561.87,390.28 l0.01,0 M579.12,371.18 l0.01,0 M574.83,375.93 l0.01,0 M574,376.85 l0.01,0 M563.12,388.3 l0.01,0 M559.34,386.52 l0.01,0 M590.15,352.4 l0.01,0 M557.62,389.06 l0.01,0 M618.89,321.19 l0.01,0 M559.9,389.98 l0.01,0 M543.58,377.61 l0.01,0 M570.49,347.81 l0.01,0 M564.07,354.91 l0.01,0 M569.26,349.16 l0.01,0 M566.43,352.31 l0.01,0 M570.24,348.08 l0.01,0 M545.86,377.83 l0.01,0 M532.42,373.34 l0.01,0 M542.79,361.85 l0.01,0 M529.44,368.28 l0.01,0 M593.57,297.26 l0.01,0 M563.26,330.82 l0.01,0 M569.21,324.24 l0.01,0 M569.12,324.33 l0.01,0 M572.48,320.61 l0.01,0 M573.97,318.96 l0.01,0 M569.95,323.41 l0.01,0 M558.02,336.63 l0.01,0 M570.66,322.63 l0.01,0 M569.68,323.71 l0.01,0 M554.79,340.2 l0.01,0 M552.36,342.89 l0.01,0 M573.95,318.98 l0.01,0 M556.15,338.7 l0.01,0 M572.97,320.07 l0.01,0 M545.93,378.37 l0.01,0 M606.79,310.97 l0.01,0 M587.68,332.13 l0.01,0 M583.39,336.88 l0.01,0 M576.52,344.49 l0.01,0 M575.26,345.89 l0.01,0 M573.08,348.3 l0.01,0 M586.08,333.91 l0.01,0 M576.77,344.21 l0.01,0 M572.66,348.77 l0.01,0 M587.17,332.7 l0.01,0 M577.56,343.33 l0.01,0 M574.83,346.36 l0.01,0 M546.85,375.69 l0.01,0 M578.52,400.67 l0.01,0 M622.02,352.5 l0.01,0 M593.23,384.38 l0.01,0 M598.56,378.48 l0.01,0 M599.68,377.24 l0.01,0 M599.38,377.57 l0.01,0 M596.6,380.64 l0.01,0 M603.93,372.52 l0.01,0 M611.78,363.84 l0.01,0 M527.94,371.7 l0.01,0 M554.95,341.78 l0.01,0 M550.14,347.11 l0.01,0 M552.8,344.17 l0.01,0 M527.07,368.6 l0.01,0 M571.87,390.37 l0.01,0 M589.4,370.95 l0.01,0 M583.04,378 l0.01,0 M581.83,379.33 l0.01,0 M541.42,381.25 l0.01,0 M583.16,335.01 l0.01,0 M572.05,347.32 l0.01,0 M570.84,348.66 l0.01,0 M572.3,347.04 l0.01,0 M540.16,383 l0.01,0 M546.74,385.87 l0.01,0 M582.78,345.95 l0.01,0 M570.24,359.85 l0.01,0 M567.72,362.63 l0.01,0 M568.14,362.17 l0.01,0 M559.34,371.91 l0.01,0 M570.06,360.04 l0.01,0 M558.98,372.31 l0.01,0 M565.97,364.57 l0.01,0 M560.79,370.3 l0.01,0 M573.2,356.57 l0.01,0 M561.48,369.54 l0.01,0 M529.37,368.56 l0.01,0 M570.33,323.19 l0.01,0 M555.54,339.57 l0.01,0 M558.16,336.67 l0.01,0 M551.4,344.16 l0.01,0 M565.64,328.39 l0.01,0 M549.48,346.28 l0.01,0 M553.38,341.97 l0.01,0 M550.72,344.91 l0.01,0 M529.88,368.9 l0.01,0 M542.19,378.93 l0.01,0 M580.91,336.05 l0.01,0 M568.42,349.88 l0.01,0 M574.51,343.13 l0.01,0 M574.31,343.35 l0.01,0 M543.58,374.69 l0.01,0 M536.64,378.46 l0.01,0 M584.54,325.4 l0.01,0 M568.4,343.28 l0.01,0 M572.24,339.02 l0.01,0 M573.15,338.02 l0.01,0 M566.5,345.39 l0.01,0 M562.11,350.24 l0.01,0 M576.91,333.86 l0.01,0 M566.39,345.5 l0.01,0 M532.47,373.65 l0.01,0 M583.39,317.25 l0.01,0 M571.42,330.51 l0.01,0 M575.44,326.06 l0.01,0 M572.55,329.26 l0.01,0 M536.57,372.19 l0.01,0 M547.84,376.07 l0.01,0 M580.24,340.18 l0.01,0 M570.51,350.97 l0.01,0 M574.76,346.25 l0.01,0 M571.09,350.32 l0.01,0 M563.64,391.85 l0.01,0 M618.03,331.61 l0.01,0 M612.48,337.75 l0.01,0 M603.07,348.18 l0.01,0 M608.41,342.27 l0.01,0 M604.26,346.86 l0.01,0 M612.05,338.23 l0.01,0 M565.95,390.63 l0.01,0 M550.49,381.01 l0.01,0 M579.18,349.23 l0.01,0 M559.1,371.47 l0.01,0 M565,364.94 l0.01,0 M571.4,357.86 l0.01,0 M565.87,363.98 l0.01,0 M560.45,369.98 l0.01,0 M558.34,372.32 l0.01,0 M554.36,377.41 l0.01,0 M549.44,382.15 l0.01,0 M586.79,340.78 l0.01,0 M561.39,388.91 l0.01,0 M587.76,359.71 l0.01,0 M575.22,392.62 l0.01,0 M626.77,335.52 l0.01,0 M623.02,339.68 l0.01,0 M620.72,342.23 l0.01,0 M613.96,349.72 l0.01,0 M615.68,347.81 l0.01,0 M620.23,342.77 l0.01,0 M619.48,343.6 l0.01,0 M618.91,344.23 l0.01,0 M576.98,392.7 l0.01,0 M577.92,393.53 l0.01,0 M614.93,352.55 l0.01,0 M610.02,357.98 l0.01,0 M611.64,356.19 l0.01,0 M610,358 l0.01,0 M542.61,374.07 l0.01,0 M590.51,321.01 l0.01,0 M571.6,341.96 l0.01,0 M570.6,343.06 l0.01,0 M576.58,336.43 l0.01,0 M563.84,350.55 l0.01,0 M577.6,335.31 l0.01,0 M565.88,348.29 l0.01,0 M560.77,353.95 l0.01,0 M577.36,335.58 l0.01,0 M545.96,370.25 l0.01,0 M543.24,380.04 l0.01,0 M594.96,322.76 l0.01,0 M532.56,368.46 l0.01,0 M603.39,290.01 l0.01,0 M574.84,321.64 l0.01,0 M571.56,325.27 l0.01,0 M562.96,334.79 l0.01,0 M558.73,339.47 l0.01,0 M564.74,332.82 l0.01,0 M554.47,344.19 l0.01,0 M572.05,324.72 l0.01,0 M558.71,339.5 l0.01,0 M546.7,352.8 l0.01,0 M561.9,335.97 l0.01,0 M546.46,353.07 l0.01,0 M561.19,336.75 l0.01,0 M561.36,336.56 l0.01,0 M551.65,347.32 l0.01,0 M575.45,320.95 l0.01,0 M549.42,349.78 l0.01,0 M568.82,328.3 l0.01,0 M579.19,316.81 l0.01,0 M555.55,342.99 l0.01,0 M563.93,333.71 l0.01,0 M539.01,361.31 l0.01,0 M533.21,374.12 l0.01,0 M591.94,309.07 l0.01,0 M573.06,329.99 l0.01,0 M578.77,323.66 l0.01,0 M581.12,321.05 l0.01,0 M572.21,330.93 l0.01,0 M570.2,333.16 l0.01,0 M580.46,321.79 l0.01,0 M572.7,330.38 l0.01,0 M537.39,371.12 l0.01,0 M570.8,395.88 l0.01,0 M615.82,346.02 l0.01,0 M562.53,383.74 l0.01,0 M604.23,337.55 l0.01,0 M563.58,380.63 l0.01,0 M532,371.41 l0.01,0 M562.88,337.2 l0.01,0 M551.47,349.84 l0.01,0 M556.01,344.81 l0.01,0 M536.44,370.27 l0.01,0 M535.6,370.25 l0.01,0 M594.19,305.36 l0.01,0 M550.46,379.17 l0.01,0 M583.7,342.36 l0.01,0 M549.34,378.01 l0.01,0 M568.67,391.96 l0.01,0 M614.6,341.08 l0.01,0 M567.35,391.36 l0.01,0 M576.22,399.19 l0.01,0 M614.9,356.35 l0.01,0 M588.08,386.05 l0.01,0 M583.33,391.31 l0.01,0 M586.26,388.07 l0.01,0 M579.85,395.17 l0.01,0 M602.19,370.42 l0.01,0 M602.15,370.47 l0.01,0 M596.23,377.02 l0.01,0 M592.64,381 l0.01,0 M580.93,393.97 l0.01,0 M572.3,391.08 l0.01,0 M597.69,362.96 l0.01,0 M589.44,372.1 l0.01,0 M589.49,372.04 l0.01,0 M585.34,376.64 l0.01,0 M579.93,382.64 l0.01,0 M543.34,376.66 l0.01,0 M618.74,293.16 l0.01,0 M596.82,317.44 l0.01,0 M592.15,322.61 l0.01,0 M603,310.59 l0.01,0 M603.38,310.17 l0.01,0 M602.11,311.58 l0.01,0 M605.77,307.52 l0.01,0 M594.78,319.69 l0.01,0 M601.79,311.92 l0.01,0 M605.99,307.28 l0.01,0 M602.31,311.36 l0.01,0 M592.33,322.41 l0.01,0 M550.07,367.32 l0.01,0 M580.86,399.66 l0.01,0 M589.64,389.94 l0.01,0 M587.53,392.27 l0.01,0 M580.6,397.95 l0.01,0 M573.69,396.49 l0.01,0 M629.98,334.14 l0.01,0 M615.33,350.36 l0.01,0 M607.84,358.66 l0.01,0 M590.25,378.14 l0.01,0 M608.46,357.97 l0.01,0 M585.64,383.24 l0.01,0 M584.29,384.75 l0.01,0 M613.72,352.15 l0.01,0 M598.82,368.65 l0.01,0 M583.13,386.02 l0.01,0 M610.22,356.02 l0.01,0 M612.94,353.01 l0.01,0 M609.37,356.96 l0.01,0 M587.15,381.57 l0.01,0 M602.38,364.71 l0.01,0 M618.09,347.31 l0.01,0 M551.3,383.04 l0.01,0 M613.45,314.2 l0.01,0 M603.85,324.83 l0.01,0 M602.76,326.04 l0.01,0 M595.03,334.6 l0.01,0 M597.36,332.02 l0.01,0 M604.6,324 l0.01,0 M538.03,378.84 l0.01,0 M565.64,348.27 l0.01,0 M559.48,355.09 l0.01,0 M574.96,397.16 l0.01,0 M620.26,346.98 l0.01,0 M587.27,383.52 l0.01,0 M586.93,383.9 l0.01,0 M590.68,379.74 l0.01,0 M598.79,370.77 l0.01,0 M611.32,356.88 l0.01,0 M602.33,366.84 l0.01,0 M610.45,357.84 l0.01,0 M586.48,384.4 l0.01,0 M576.06,395.94 l0.01,0 M580.89,390.59 l0.01,0 M606.54,362.17 l0.01,0 M578.85,392.85 l0.01,0 M603.52,365.52 l0.01,0 M612.19,355.92 l0.01,0 M604.56,364.37 l0.01,0 M575.62,397.41 l0.01,0 M562.72,387.53 l0.01,0 M578.47,370.1 l0.01,0 M562.77,385.98 l0.01,0 M536.72,372.6 l0.01,0 M569.91,335.84 l0.01,0 M552.19,355.47 l0.01,0 M552.06,355.61 l0.01,0 M548.12,359.97 l0.01,0 M553.22,354.33 l0.01,0 M550.07,357.82 l0.01,0 M534.56,370.49 l0.01,0 M578.72,321.58 l0.01,0 M562,340.09 l0.01,0 M564.72,337.09 l0.01,0 M563.02,338.96 l0.01,0 M564.07,337.8 l0.01,0 M566.09,335.56 l0.01,0 M566.39,335.23 l0.01,0 M536.57,367.79 l0.01,0 M532.5,371.63 l0.01,0 M604.58,291.8 l0.01,0 M564.35,336.36 l0.01,0 M556.47,345.09 l0.01,0 M560.82,340.26 l0.01,0 M550.61,351.58 l0.01,0 M577.92,321.32 l0.01,0 M575.55,323.95 l0.01,0 M559.38,341.86 l0.01,0 M579.15,319.97 l0.01,0 M571.56,328.37 l0.01,0 M565.14,335.48 l0.01,0 M559.23,342.03 l0.01,0 M570.73,329.29 l0.01,0 M544.43,381.59 l0.01,0 M589.82,331.32 l0.01,0 M547.56,382.29 l0.01,0 M556.77,385.23 l0.01,0 M614.45,321.35 l0.01,0 M600.94,336.3 l0.01,0 M606.09,330.6 l0.01,0 M609.88,326.4 l0.01,0 M610.8,325.38 l0.01,0 M562.78,389.83 l0.01,0 M592.61,356.79 l0.01,0 M583.2,367.21 l0.01,0 M586.75,363.27 l0.01,0 M584.04,366.28 l0.01,0 M582.03,368.51 l0.01,0 M561.81,385.41 l0.01,0 M610.5,331.49 l0.01,0 M605.9,336.58 l0.01,0 M601.68,341.25 l0.01,0 M599.47,343.7 l0.01,0 M597.57,345.8 l0.01,0 M605.26,337.29 l0.01,0 M604.63,337.99 l0.01,0 M604.35,338.29 l0.01,0 M542.86,378.5 l0.01,0 M594.4,321.41 l0.01,0 M575.73,342.09 l0.01,0 M576.14,341.64 l0.01,0 M578.21,339.34 l0.01,0 M572.02,346.2 l0.01,0 M568.66,349.92 l0.01,0 M586.45,330.22 l0.01,0 M581.29,335.93 l0.01,0 M571.34,346.95 l0.01,0 M543.24,377.09 l0.01,0 M554.27,384.51 l0.01,0 M616.8,315.25 l0.01,0 M544.72,380.25 l0.01,0 M580.2,340.96 l0.01,0 M532.37,375.03 l0.01,0 M596.03,304.52 l0.01,0 M589.17,312.12 l0.01,0 M583.95,317.89 l0.01,0 M580.79,399.72 l0.01,0 M618.21,358.27 l0.01,0 M543.7,373.28 l0.01,0 M594.56,316.95 l0.01,0 M585.81,326.64 l0.01,0 M587.76,324.48 l0.01,0 M545.2,372.31 l0.01,0 M554.5,383.06 l0.01,0 M584.33,350.02 l0.01,0 M573.73,361.77 l0.01,0 M568.72,367.31 l0.01,0 M573.23,362.32 l0.01,0 M566.4,369.88 l0.01,0 M580.79,395.91 l0.01,0 M637.32,333.31 l0.01,0 M604.98,369.12 l0.01,0 M598.15,376.68 l0.01,0 M598.46,376.35 l0.01,0 M593.45,381.9 l0.01,0 M614.99,358.03 l0.01,0 M595.2,379.96 l0.01,0 M605.69,368.34 l0.01,0 M615.33,357.66 l0.01,0 M600.81,373.73 l0.01,0 M583.5,391.7 l0.01,0 M582.75,401.21 l0.01,0 M637.03,341.09 l0.01,0 M619.38,360.64 l0.01,0 M629.03,349.95 l0.01,0 M633,345.56 l0.01,0 M629.96,348.93 l0.01,0 M615.74,364.68 l0.01,0 M631.73,346.96 l0.01,0 M583.1,401.04 l0.01,0 M584.1,400.3 l0.01,0 M615.45,365.58 l0.01,0 M602.78,379.61 l0.01,0 M600.35,382.3 l0.01,0 M585.11,400.19 l0.01,0 M532.21,367.28 l0.01,0 M587.67,305.85 l0.01,0 M573.74,398.8 l0.01,0 M620.97,346.49 l0.01,0 M606.84,362.14 l0.01,0 M614.66,353.48 l0.01,0 M603.82,365.48 l0.01,0 M611.58,356.89 l0.01,0 M607.11,361.84 l0.01,0 M534.11,370.57 l0.01,0 M575.28,324.97 l0.01,0 M540.9,363.05 l0.01,0 M552.46,350.24 l0.01,0 M549.57,353.44 l0.01,0 M542.99,360.73 l0.01,0 M553.77,348.79 l0.01,0 M545.18,358.3 l0.01,0 M561.75,339.95 l0.01,0 M555.26,347.14 l0.01,0 M540.35,363.66 l0.01,0 M558.29,343.79 l0.01,0 M558.16,343.93 l0.01,0 M562.95,338.63 l0.01,0 M552.68,349.99 l0.01,0 M568.94,395.1 l0.01,0 M599.26,361.52 l0.01,0 M588.96,372.93 l0.01,0 M576.62,386.59 l0.01,0 M589.71,372.09 l0.01,0 M580.38,382.43 l0.01,0 M571.26,395.15 l0.01,0 M572.8,393.93 l0.01,0 M583.95,381.59 l0.01,0 M579.85,386.13 l0.01,0 M574.38,392.21 l0.01,0 M537.23,378.34 l0.01,0 M590.69,319.14 l0.01,0 M532.61,376.29 l0.01,0 M602.58,298.79 l0.01,0 M591.22,311.37 l0.01,0 M591.51,311.05 l0.01,0 M598.98,302.78 l0.01,0 M600.5,301.1 l0.01,0 M533.29,376.6 l0.01,0 M559.17,382.01 l0.01,0 M593.73,343.73 l0.01,0 M582.13,356.58 l0.01,0 M586.13,352.14 l0.01,0 M572.57,367.16 l0.01,0 M585.73,352.59 l0.01,0 M572.82,366.89 l0.01,0 M573.47,366.16 l0.01,0 M561.87,381.21 l0.01,0 M543.54,381.77 l0.01,0 M604.36,314.41 l0.01,0 M589.38,331 l0.01,0 M581.5,339.73 l0.01,0 M577.99,343.61 l0.01,0 M589.26,331.13 l0.01,0 M589.68,330.67 l0.01,0 M582.43,338.7 l0.01,0 M545.88,380.23 l0.01,0 M560.79,389.44 l0.01,0 M615.58,328.75 l0.01,0 M598.64,347.51 l0.01,0 M598.2,348 l0.01,0 M599.27,346.82 l0.01,0 M603.92,341.66 l0.01,0 M599.42,346.65 l0.01,0 M603.86,341.73 l0.01,0 M580.28,395.89 l0.01,0 M621.53,350.21 l0.01,0 M613.62,358.97 l0.01,0 M613.65,358.93 l0.01,0 M582.24,392.5 l0.01,0 M549.5,381.12 l0.01,0 M601.47,323.57 l0.01,0 M588.49,337.94 l0.01,0 M592.63,333.35 l0.01,0 M582.88,344.15 l0.01,0 M587.46,339.08 l0.01,0 M590.43,335.78 l0.01,0 M584.55,342.3 l0.01,0 M591.8,334.28 l0.01,0 M590.78,335.4 l0.01,0 M592.55,333.44 l0.01,0 M584.27,342.61 l0.01,0 M578.48,398.95 l0.01,0 M632.11,339.55 l0.01,0 M607.14,367.21 l0.01,0 M592.66,383.25 l0.01,0 M597.87,377.48 l0.01,0 M604.57,370.05 l0.01,0 M604.29,370.37 l0.01,0 M605.79,368.7 l0.01,0 M594.12,381.63 l0.01,0 M596.58,378.9 l0.01,0 M610.99,362.94 l0.01,0 M617.23,356.03 l0.01,0 M593.98,381.78 l0.01,0 M591.63,384.38 l0.01,0 M614.11,359.49 l0.01,0 M617.44,355.8 l0.01,0 M580.28,396.46 l0.01,0 M568.37,394.46 l0.01,0 M614.4,343.48 l0.01,0 M579.04,382.64 l0.01,0 M577.42,384.44 l0.01,0 M577.76,384.06 l0.01,0 M583.39,377.83 l0.01,0 M573.45,388.84 l0.01,0 M574.95,387.17 l0.01,0 M587.13,373.69 l0.01,0 M554.88,387.09 l0.01,0 M599.85,337.29 l0.01,0 M569.86,370.51 l0.01,0 M583.23,355.69 l0.01,0 M586.29,352.31 l0.01,0 M579.32,360.02 l0.01,0 M568.21,372.34 l0.01,0 M571.06,369.18 l0.01,0 M578.39,361.06 l0.01,0 M574.96,364.86 l0.01,0 M573.7,366.25 l0.01,0 M564.41,388.08 l0.01,0 M623.9,322.2 l0.01,0 M618.52,328.15 l0.01,0 M622.19,324.09 l0.01,0 M604.79,343.36 l0.01,0 M613.37,333.86 l0.01,0 M597.63,351.29 l0.01,0 M608.14,339.65 l0.01,0 M607.14,340.76 l0.01,0 M584.73,365.58 l0.01,0 M621.61,324.73 l0.01,0 M604.64,343.53 l0.01,0 M595.1,354.1 l0.01,0 M565.14,389.29 l0.01,0 M563.13,384.39 l0.01,0 M591.68,352.76 l0.01,0 M586.2,358.84 l0.01,0 M588.47,356.32 l0.01,0 M588.86,355.89 l0.01,0 M571.26,395.52 l0.01,0 M598.84,364.98 l0.01,0 M583.28,382.21 l0.01,0 M584.25,381.14 l0.01,0 M578.29,387.73 l0.01,0 M582.28,383.31 l0.01,0 M583.59,381.86 l0.01,0 M529.95,372.69 l0.01,0 M580.07,317.18 l0.01,0 M568.08,330.46 l0.01,0 M565.09,333.77 l0.01,0 M567.9,330.66 l0.01,0 M568.11,330.43 l0.01,0 M568.59,329.9 l0.01,0 M567.95,330.61 l0.01,0 M531.16,370.78 l0.01,0 M566.35,387.92 l0.01,0 M612.28,337.05 l0.01,0 M555.85,389.11 l0.01,0 M614.86,323.76 l0.01,0 M578.61,363.9 l0.01,0 M582.02,360.13 l0.01,0 M575.64,367.19 l0.01,0 M594.28,346.55 l0.01,0 M588.38,353.09 l0.01,0 M588.4,353.06 l0.01,0 M584.3,357.6 l0.01,0 M584.62,357.25 l0.01,0 M591.89,349.2 l0.01,0 M577.54,365.09 l0.01,0 M558.87,384.39 l0.01,0 M559.93,381.28 l0.01,0 M622.89,311.56 l0.01,0 M558.46,379.63 l0.01,0 M581.06,398.01 l0.01,0 M630.85,342.87 l0.01,0 M584.19,394.27 l0.01,0 M547.67,379.29 l0.01,0 M562.91,362.4 l0.01,0 M553.83,372.47 l0.01,0 M549.75,376.98 l0.01,0 M551.57,374.96 l0.01,0 M552.62,373.8 l0.01,0 M548.09,379.06 l0.01,0 M613.81,306.27 l0.01,0 M572.34,352.2 l0.01,0 M596.88,325.03 l0.01,0 M584.45,338.79 l0.01,0 M572.98,351.5 l0.01,0 M564.69,360.67 l0.01,0 M585.04,338.14 l0.01,0 M583.82,339.49 l0.01,0 M582.65,340.79 l0.01,0 M562.72,362.86 l0.01,0 M583.95,339.34 l0.01,0 M591.22,331.29 l0.01,0 M582.44,341.02 l0.01,0 M586.36,336.67 l0.01,0 M574.42,349.89 l0.01,0 M575.41,348.81 l0.01,0 M570.87,353.83 l0.01,0 M589.97,332.68 l0.01,0 M589.21,333.52 l0.01,0 M550.57,378.45 l0.01,0 M543.84,373.1 l0.01,0 M556.79,358.76 l0.01,0 M554.18,361.64 l0.01,0 M579.51,396.38 l0.01,0 M601.9,371.58 l0.01,0 M565.77,394.57 l0.01,0 M572.57,387.03 l0.01,0 M581.7,390.98 l0.01,0 M638.21,328.39 l0.01,0 M627.25,340.53 l0.01,0 M622.63,345.65 l0.01,0 M621.21,347.23 l0.01,0 M623.99,344.15 l0.01,0 M556.96,387.1 l0.01,0 M604.51,334.43 l0.01,0 M594.41,345.62 l0.01,0 M591,349.4 l0.01,0 M584.85,356.2 l0.01,0 M585.97,354.96 l0.01,0 M592.7,347.51 l0.01,0 M586.6,354.26 l0.01,0 M595.93,343.94 l0.01,0 M585.33,355.67 l0.01,0 M536.74,367.04 l0.01,0 M577.1,322.33 l0.01,0 M539.02,364.87 l0.01,0 M557.2,385.87 l0.01,0 M587.15,352.7 l0.01,0 M569.82,371.89 l0.01,0 M573.62,367.69 l0.01,0 M576.08,364.96 l0.01,0 M571.18,370.39 l0.01,0 M578.86,361.88 l0.01,0 M574.88,366.29 l0.01,0 M575.94,365.12 l0.01,0 M577.5,363.38 l0.01,0 M569.75,371.97 l0.01,0 M576.31,364.7 l0.01,0 M558.03,383.67 l0.01,0 M541.45,375.88 l0.01,0 M573.43,340.45 l0.01,0 M530.7,370.18 l0.01,0 M601.23,292.06 l0.01,0 M580.21,399.74 l0.01,0 M612.06,364.47 l0.01,0 M606.19,370.97 l0.01,0 M606.18,370.99 l0.01,0 M605.53,371.7 l0.01,0 M590.15,388.74 l0.01,0 M592.81,385.79 l0.01,0 M607,370.07 l0.01,0 M601.48,376.19 l0.01,0 M607.32,369.72 l0.01,0 M599.15,378.76 l0.01,0 M594.92,383.46 l0.01,0 M594.6,383.8 l0.01,0 M540.79,373.08 l0.01,0 M551.15,361.6 l0.01,0 M548.85,364.16 l0.01,0 M554.4,385.02 l0.01,0 M606.45,327.37 l0.01,0 M555.14,383.47 l0.01,0 M544.29,376.37 l0.01,0 M559.16,359.91 l0.01,0 M554.36,365.23 l0.01,0 M548.51,371.7 l0.01,0 M549.19,370.95 l0.01,0 M549.96,370.09 l0.01,0 M546.28,375.75 l0.01,0 M566.13,388.38 l0.01,0 M614.43,334.88 l0.01,0 M605.75,344.49 l0.01,0 M602.67,347.91 l0.01,0 M604.42,345.97 l0.01,0 M600.56,350.25 l0.01,0 M569.18,385.03 l0.01,0 M549.38,379.66 l0.01,0 M621.35,299.95 l0.01,0 M576.73,349.37 l0.01,0 M591.61,332.9 l0.01,0 M564.86,362.53 l0.01,0 M570.41,356.37 l0.01,0 M571.17,355.53 l0.01,0 M567.83,359.24 l0.01,0 M583.46,341.92 l0.01,0 M569.46,357.42 l0.01,0 M572.1,354.51 l0.01,0 M587.99,336.9 l0.01,0 M558.75,369.29 l0.01,0 M582.56,342.91 l0.01,0 M576.04,350.14 l0.01,0 M572.54,354.02 l0.01,0 M573.76,352.66 l0.01,0 M534.06,368.49 l0.01,0 M591.29,305.1 l0.01,0 M579.57,318.09 l0.01,0 M578.53,319.24 l0.01,0 M575.86,322.19 l0.01,0 M578.73,319.02 l0.01,0 M577.86,319.97 l0.01,0 M578.35,319.43 l0.01,0 M536.59,369.28 l0.01,0 M552.12,381.12 l0.01,0 M600.09,327.99 l0.01,0 M586.39,343.16 l0.01,0 M566.14,365.59 l0.01,0 M567.16,364.46 l0.01,0 M586.46,343.09 l0.01,0 M569.92,361.4 l0.01,0 M577.75,352.73 l0.01,0 M593.24,335.58 l0.01,0 M572.79,358.23 l0.01,0 M557.18,379.97 l0.01,0 M590.52,343.04 l0.01,0 M567.79,368.22 l0.01,0 M570.3,365.44 l0.01,0 M585.5,348.6 l0.01,0 M584.32,349.91 l0.01,0 M570.94,364.73 l0.01,0 M578.87,355.95 l0.01,0 M585.15,349 l0.01,0 M577.78,357.15 l0.01,0 M560.11,375.66 l0.01,0 M545.4,377.65 l0.01,0 M580.07,339.25 l0.01,0 M570.62,349.71 l0.01,0 M577.34,342.26 l0.01,0 M575.42,344.4 l0.01,0 M576.24,343.48 l0.01,0 M573.98,345.98 l0.01,0 M581.91,401.15 l0.01,0 M613.28,366.4 l0.01,0 M603.77,376.94 l0.01,0 M594.89,386.78 l0.01,0 M601.99,378.91 l0.01,0 M606.21,374.23 l0.01,0 M583.22,402.62 l0.01,0 M550.91,381.68 l0.01,0 M623.23,301.58 l0.01,0 M568.88,361.78 l0.01,0 M615.31,310.35 l0.01,0 M612.21,313.79 l0.01,0 M576.9,352.89 l0.01,0 M585.38,343.5 l0.01,0 M605.21,321.54 l0.01,0 M584.32,344.68 l0.01,0 M582.18,347.05 l0.01,0 M578.89,350.68 l0.01,0 M571.81,358.53 l0.01,0 M589.44,339.01 l0.01,0 M587.23,341.45 l0.01,0 M610.86,315.28 l0.01,0 M600.18,327.11 l0.01,0 M588.04,340.55 l0.01,0 M571.58,358.79 l0.01,0 M584.02,345 l0.01,0 M617.02,308.46 l0.01,0 M609.72,316.55 l0.01,0 M569.28,361.33 l0.01,0 M577.28,352.48 l0.01,0 M595.24,332.59 l0.01,0 M614.65,311.08 l0.01,0 M574.68,355.35 l0.01,0 M591.54,336.68 l0.01,0 M600.86,326.36 l0.01,0 M570.3,360.2 l0.01,0 M557.01,373.5 l0.01,0 M548.01,382.17 l0.01,0 M596.98,327.94 l0.01,0 M583.07,343.34 l0.01,0 M569.71,358.13 l0.01,0 M576.3,350.84 l0.01,0 M575.05,352.23 l0.01,0 M574.51,352.82 l0.01,0 M567.28,360.83 l0.01,0 M583.75,342.58 l0.01,0 M583.33,343.05 l0.01,0 M566.14,388 l0.01,0 M624.92,322.9 l0.01,0 M541.98,382.08 l0.01,0 M588.72,330.31 l0.01,0 M583.54,336.04 l0.01,0 M577.54,342.69 l0.01,0 M574.49,346.07 l0.01,0 M576.2,344.17 l0.01,0 M577.27,342.99 l0.01,0 M582.05,337.69 l0.01,0 M564.8,392.34 l0.01,0 M629.26,320.95 l0.01,0 M586.51,368.29 l0.01,0 M575.34,380.66 l0.01,0 M581.14,374.24 l0.01,0 M587.77,366.89 l0.01,0 M591.47,362.8 l0.01,0 M588.44,366.16 l0.01,0 M596.24,357.51 l0.01,0 M585.61,369.28 l0.01,0 M598.41,355.12 l0.01,0 M558.31,392.28 l0.01,0 M609.29,335.82 l0.01,0 M589.36,357.89 l0.01,0 M589.3,357.96 l0.01,0 M584.05,363.77 l0.01,0 M583.4,364.5 l0.01,0 M566.56,383.14 l0.01,0 M562.84,387.26 l0.01,0 M564.76,385.14 l0.01,0 M576.15,372.53 l0.01,0 M571.29,377.91 l0.01,0 M593.01,353.86 l0.01,0 M565.31,384.53 l0.01,0 M581.59,366.5 l0.01,0 M571.89,377.25 l0.01,0 M567.99,381.56 l0.01,0 M587.48,359.98 l0.01,0 M560.16,389.64 l0.01,0 M546.59,382.21 l0.01,0 M570.69,355.51 l0.01,0 M568.37,358.08 l0.01,0 M562.78,364.28 l0.01,0 M569.42,356.92 l0.01,0 M557.39,389.84 l0.01,0 M571.84,373.85 l0.01,0 M569.46,376.48 l0.01,0 M568.85,377.15 l0.01,0 M571.3,374.44 l0.01,0 M565.21,381.18 l0.01,0 M558.08,389.29 l0.01,0 M532.39,373.29 l0.01,0 M606.07,291.69 l0.01,0 M537.58,379.13 l0.01,0 M583.21,328.6 l0.01,0 M541.61,375.63 l0.01,0 M538.65,377.73 l0.01,0 M600.94,308.75 l0.01,0 M583.8,327.73 l0.01,0 M586.71,324.51 l0.01,0 M582.41,329.27 l0.01,0 M596.73,313.41 l0.01,0 M580.89,330.95 l0.01,0 M594.7,315.66 l0.01,0 M598.28,311.69 l0.01,0 M590.06,320.79 l0.01,0 M589.1,321.85 l0.01,0 M541.19,375.23 l0.01,0 M560.79,386.66 l0.01,0 M596.73,346.86 l0.01,0 M583.94,361.02 l0.01,0 M579.91,365.49 l0.01,0 M580.97,364.31 l0.01,0 M584.22,360.72 l0.01,0 M586.82,357.83 l0.01,0 M582.37,362.77 l0.01,0 M541.03,379.4 l0.01,0 M561.77,356.43 l0.01,0 M554.2,364.82 l0.01,0 M555.65,363.21 l0.01,0 M551.81,367.46 l0.01,0 M544.43,375.64 l0.01,0 M545.81,374.11 l0.01,0 M552.29,366.93 l0.01,0 M564.58,392.45 l0.01,0 M586.82,367.81 l0.01,0 M576.33,379.44 l0.01,0 M570.21,386.21 l0.01,0 M577.65,377.97 l0.01,0 M567.42,389.92 l0.01,0 M551.05,382.24 l0.01,0 M578.81,351.51 l0.01,0 M577.21,353.27 l0.01,0 M567.84,363.65 l0.01,0 M575.19,355.51 l0.01,0 M550.7,380.23 l0.01,0 M581.99,398.87 l0.01,0 M630.16,345.52 l0.01,0 M622.63,353.86 l0.01,0 M622.75,353.73 l0.01,0 M620.78,355.91 l0.01,0 M533.53,373.51 l0.01,0 M564.98,338.68 l0.01,0 M553.09,351.85 l0.01,0 M557.74,346.7 l0.01,0 M556.86,347.67 l0.01,0 M547.74,378.51 l0.01,0 M603.12,317.18 l0.01,0 M568.77,355.22 l0.01,0 M577.5,345.55 l0.01,0 M555.29,370.15 l0.01,0 M586.7,335.36 l0.01,0 M568.39,355.65 l0.01,0 M567.78,356.32 l0.01,0 M565.07,359.32 l0.01,0 M555.09,370.37 l0.01,0 M586.03,336.11 l0.01,0 M583.19,339.26 l0.01,0 M589.34,332.44 l0.01,0 M574.41,348.97 l0.01,0 M591.95,329.56 l0.01,0 M571.37,352.35 l0.01,0 M577.27,345.81 l0.01,0 M589.83,331.9 l0.01,0 M566.87,357.33 l0.01,0 M574.32,349.08 l0.01,0 M569.08,354.88 l0.01,0 M567.83,390.76 l0.01,0 M616.26,337.13 l0.01,0 M562.98,388.95 l0.01,0 M599.8,348.16 l0.01,0 M589.5,359.58 l0.01,0 M585.09,364.45 l0.01,0 M590.3,358.69 l0.01,0 M557.99,388.71 l0.01,0 M588.15,355.3 l0.01,0 M581.88,362.25 l0.01,0 M561.26,387.39 l0.01,0 M562.56,392.95 l0.01,0 M570.64,384.01 l0.01,0 M526.25,367.55 l0.01,0 M595.47,290.89 l0.01,0 M528.16,363.91 l0.01,0 M569.4,395.5 l0.01,0 M615.76,344.14 l0.01,0 M583.63,398.92 l0.01,0 M629.95,347.61 l0.01,0 M542.02,379.29 l0.01,0 M577.91,339.54 l0.01,0 M534.54,372.26 l0.01,0 M584.02,317.47 l0.01,0 M554.69,349.95 l0.01,0 M561.96,341.9 l0.01,0 M561.62,342.28 l0.01,0 M547.95,357.41 l0.01,0 M545.76,359.84 l0.01,0 M561.43,342.49 l0.01,0 M566.22,337.19 l0.01,0 M547.65,357.75 l0.01,0 M543.45,362.4 l0.01,0 M551.34,353.66 l0.01,0 M548.34,356.99 l0.01,0 M558.44,345.8 l0.01,0 M544.81,380.21 l0.01,0 M601.46,317.47 l0.01,0 M578.24,343.19 l0.01,0 M577.71,343.78 l0.01,0 M583.15,337.76 l0.01,0 M580.1,341.13 l0.01,0 M594.19,325.53 l0.01,0 M575.13,346.64 l0.01,0 M574.31,347.54 l0.01,0 M590.62,329.48 l0.01,0 M574.39,347.46 l0.01,0 M574.08,347.8 l0.01,0 M579.11,342.23 l0.01,0 M582.23,338.77 l0.01,0 M584.84,335.88 l0.01,0 M586.96,333.54 l0.01,0 M541.72,376.78 l0.01,0 M602.59,309.36 l0.01,0 M544.68,373.63 l0.01,0 M535.78,370.5 l0.01,0 M569.01,333.7 l0.01,0 M538.82,367.13 l0.01,0 M550.2,354.52 l0.01,0 M541.88,363.74 l0.01,0 M544.81,360.5 l0.01,0 M545.32,359.93 l0.01,0 M540.44,365.34 l0.01,0 M556.14,347.95 l0.01,0 M552.53,351.95 l0.01,0 M536.96,369.8 l0.01,0 M539.88,376.35 l0.01,0 M573.2,339.45 l0.01,0 M567.16,346.14 l0.01,0 M569.19,343.9 l0.01,0 M576.32,399.26 l0.01,0 M591.12,382.87 l0.01,0 M560.27,384.92 l0.01,0 M612.06,327.56 l0.01,0 M561.38,384.15 l0.01,0 M596.89,344.82 l0.01,0 M591.44,350.85 l0.01,0 M580.4,363.08 l0.01,0 M581.46,361.91 l0.01,0 M578.54,365.14 l0.01,0 M593.28,348.82 l0.01,0 M564.8,380.78 l0.01,0 M565.11,392.63 l0.01,0 M573.25,383.62 l0.01,0 M564.13,391.51 l0.01,0 M542.05,375 l0.01,0 M587.25,324.93 l0.01,0 M582.3,330.42 l0.01,0 M582.77,329.9 l0.01,0 M579.37,333.66 l0.01,0 M578.71,334.39 l0.01,0 M547.06,369.04 l0.01,0 M532.8,372.86 l0.01,0 M587.55,312.22 l0.01,0 M563.95,338.36 l0.01,0 M556.83,346.25 l0.01,0 M571.02,330.54 l0.01,0 M562.06,340.45 l0.01,0 M562.02,340.5 l0.01,0 M551.26,352.41 l0.01,0 M572.01,329.43 l0.01,0 M549.78,354.06 l0.01,0 M570.12,331.53 l0.01,0 M561.13,341.49 l0.01,0 M572.21,329.21 l0.01,0 M573.82,327.43 l0.01,0 M564.8,337.42 l0.01,0 M566.81,335.2 l0.01,0 M551.85,383.14 l0.01,0 M621.33,306.19 l0.01,0 M559.12,387.89 l0.01,0 M592.81,350.58 l0.01,0 M579.28,400.73 l0.01,0 M629.01,345.65 l0.01,0 M619.78,355.87 l0.01,0 M621.25,354.24 l0.01,0 M619.32,356.38 l0.01,0 M619.53,356.14 l0.01,0 M622.08,353.33 l0.01,0 M619,356.73 l0.01,0 M583.26,396.33 l0.01,0 M528.55,375.49 l0.01,0 M568.5,331.24 l0.01,0 M554.82,346.39 l0.01,0 M554.6,346.64 l0.01,0 M559.41,341.31 l0.01,0 M563.05,337.28 l0.01,0 M559.45,341.26 l0.01,0 M558.93,341.84 l0.01,0 M563.06,337.27 l0.01,0 M555.04,346.15 l0.01,0 M560.95,339.6 l0.01,0 M562.87,337.48 l0.01,0 M557.11,343.85 l0.01,0 M527.18,374.12 l0.01,0 M557.81,387.67 l0.01,0 M591,350.92 l0.01,0 M577.03,366.39 l0.01,0 M582.52,360.31 l0.01,0 M563.23,381.68 l0.01,0 M565.6,379.05 l0.01,0 M576,367.53 l0.01,0 M561.61,383.47 l0.01,0 M570.78,373.31 l0.01,0 M561.79,383.27 l0.01,0 M560.44,385.77 l0.01,0 M539.39,379.58 l0.01,0 M581.15,333.32 l0.01,0 M557.41,359.62 l0.01,0 M550.23,367.57 l0.01,0 M551.16,366.55 l0.01,0 M569.76,345.94 l0.01,0 M554.19,363.18 l0.01,0 M571.79,343.69 l0.01,0 M559.71,357.07 l0.01,0 M553.72,363.71 l0.01,0 M563.08,353.34 l0.01,0 M578.24,397.95 l0.01,0 M629.05,341.68 l0.01,0 M581.63,396.74 l0.01,0 M581.13,394.88 l0.01,0 M611.89,360.81 l0.01,0 M606,367.34 l0.01,0 M608.21,364.89 l0.01,0 M536.81,373.84 l0.01,0 M570.73,336.27 l0.01,0 M571.25,392.36 l0.01,0 M632.38,324.66 l0.01,0 M614.28,344.71 l0.01,0 M601.89,358.42 l0.01,0 M631.09,326.09 l0.01,0 M630.93,326.27 l0.01,0 M625.1,332.73 l0.01,0 M622.72,335.36 l0.01,0 M622.62,335.47 l0.01,0 M629.13,328.26 l0.01,0 M622.7,335.38 l0.01,0 M616.89,341.81 l0.01,0 M615.59,343.25 l0.01,0 M571.17,391.64 l0.01,0" stroke="#80b0d2" stroke-width="1.7" stroke-linecap="round" fill="none"/>
<path d="M493.2,292.02 L493.2,383.7 L550.6,416.1 L667.75,400.95" stroke="#4a4a4a" stroke-width="0.9" fill="none"/>
<path d="M493.2,383.7 L490.4,382.8 M493.2,368.42 L490.4,367.52 M493.2,353.14 L490.4,352.24 M493.2,337.86 L490.4,336.96 M493.2,322.58 L490.4,321.68 M493.2,307.3 L490.4,306.4 M493.2,292.02 L490.4,291.12 M493.2,383.7 L490.4,384.1 M521.9,399.9 L519.1,400.3 M550.6,416.1 L547.8,416.5 M550.6,416.1 L552.4,417.1 M589.65,411.05 L591.45,412.05 M628.7,406 L630.5,407 M667.75,400.95 L669.55,401.95" stroke="#4a4a4a" stroke-width="0.8"/>
<text x="484.59" y="369.32" font-family="Liberation Serif" font-size="7.6" fill="#111" stroke="#111" stroke-width="0.08">0</text>
<text x="480.79" y="354.04" font-family="Liberation Serif" font-size="7.6" fill="#111" stroke="#111" stroke-width="0.08">20</text>
<text x="480.79" y="338.76" font-family="Liberation Serif" font-size="7.6" fill="#111" stroke="#111" stroke-width="0.08">40</text>
<text x="480.79" y="323.48" font-family="Liberation Serif" font-size="7.6" fill="#111" stroke="#111" stroke-width="0.08">60</text>
<text x="480.79" y="308.2" font-family="Liberation Serif" font-size="7.6" fill="#111" stroke="#111" stroke-width="0.08">80</text>
<text x="476.99" y="292.92" font-family="Liberation Serif" font-size="7.6" fill="#111" stroke="#111" stroke-width="0.08">100</text>
<text x="483.4" y="391.9" font-family="Liberation Serif" font-size="7.6" fill="#111" stroke="#111" stroke-width="0.08">0</text>
<text x="504.32" y="407.8" font-family="Liberation Serif" font-size="7.6" fill="#111" stroke="#111" stroke-width="0.08">500</text>
<text x="528.61" y="423.9" font-family="Liberation Serif" font-size="7.6" fill="#111" stroke="#111" stroke-width="0.08">1000</text>
<text x="555.04" y="426.4" font-family="Liberation Serif" font-size="7.6" fill="#111" stroke="#111" stroke-width="0.08">-50</text>
<text x="593.9" y="420.6" font-family="Liberation Serif" font-size="7.6" fill="#111" stroke="#111" stroke-width="0.08">0</text>
<text x="633.22" y="415.8" font-family="Liberation Serif" font-size="7.6" fill="#111" stroke="#111" stroke-width="0.08">50</text>
<text x="672.41" y="410.9" font-family="Liberation Serif" font-size="7.6" fill="#111" stroke="#111" stroke-width="0.08">100</text>
<text x="486.6" y="417.3" font-family="Liberation Serif" font-size="9.8" fill="#1a1a1a">inputs</text>
<text transform="translate(619.51,421.9) scale(1.020,1)" font-family="Liberation Serif" font-size="8.6" fill="#1a1a1a">t</text>
<text transform="translate(621.55,426.3) scale(1.206,1)" font-family="Liberation Serif" font-size="7.2" fill="#1a1a1a">jl</text>
<g transform="translate(467.5,338) rotate(-90)"><text x="-5.39" y="2.5" font-family="Liberation Serif" font-size="8.8" fill="#1a1a1a">t</text><text transform="translate(-2.28,7.7) scale(1.011,1)" font-family="Liberation Serif" font-size="7.4" fill="#1a1a1a">jm</text></g>
</svg></body></html>
